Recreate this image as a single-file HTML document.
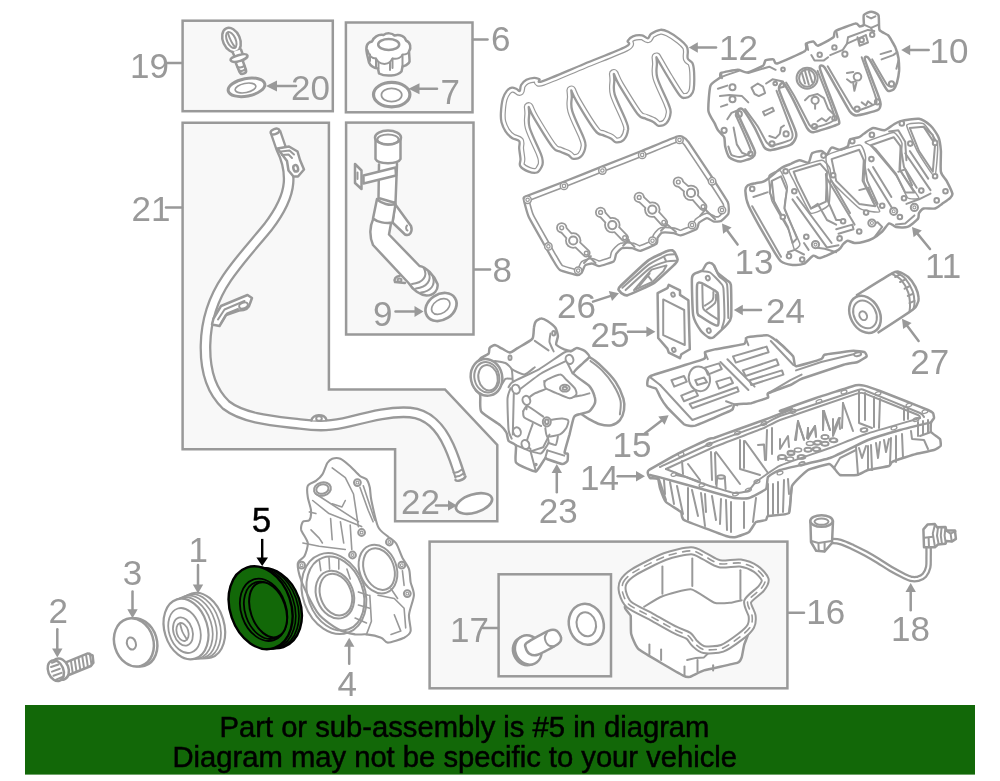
<!DOCTYPE html>
<html lang="en">
<head>
<meta charset="utf-8">
<title>Engine parts diagram</title>
<style>
html,body{margin:0;padding:0;background:#fff;}
body{width:1000px;height:781px;overflow:hidden;position:relative;font-family:"Liberation Sans",Arial,Helvetica,sans-serif;}
svg{position:absolute;left:0;top:0;display:block;will-change:transform;}
.l{fill:none;stroke:#999;stroke-width:2.5;stroke-linejoin:round;stroke-linecap:round;}
.t{fill:none;stroke:#999;stroke-width:2;stroke-linejoin:round;stroke-linecap:round;}
.w{fill:#fff;stroke:#999;stroke-width:2.5;stroke-linejoin:round;stroke-linecap:round;}
.wt{fill:#fff;stroke:#999;stroke-width:2;stroke-linejoin:round;stroke-linecap:round;}
.g{fill:#f8f8f8;stroke:#999;stroke-width:2.5;stroke-linejoin:round;stroke-linecap:round;}
.box{fill:#f8f8f8;stroke:#999;stroke-width:2.5;stroke-linejoin:miter;}
.a{fill:#999;stroke:none;}
.n{font-family:"Liberation Sans",Arial,Helvetica,sans-serif;font-size:35px;fill:#999;}
.k{fill:none;stroke:#000;stroke-width:2.5;stroke-linejoin:round;stroke-linecap:round;}
.b{font-family:"Liberation Sans",Arial,Helvetica,sans-serif;font-size:29.2px;fill:#000;stroke:#000;stroke-width:0.5px;}
</style>
</head>
<body>
<svg width="1000" height="781" viewBox="0 0 1000 781">
<rect x="0" y="0" width="1000" height="781" fill="#fff"/>
<g id="boxes">
<rect class="box" x="182.6" y="20.7" width="150.2" height="90.5"/>
<rect class="box" x="345.9" y="22.5" width="126.6" height="89.8"/>
<path class="box" d="M182.6 122.8H328.9V389.5H445L497.3 445V521.2H395.1V449.2H182.6Z"/>
<rect class="box" x="346.1" y="122.6" width="127.4" height="211.9"/>
<rect class="box" x="429.6" y="541.6" width="357.8" height="146.7"/>
<rect class="box" x="498.6" y="574.3" width="112.4" height="102"/>
</g>
<g id="p19">
<ellipse class="w" cx="231.5" cy="40" rx="8.5" ry="12.8" transform="rotate(-24 231.5 40)"/>
<ellipse class="t" cx="231.3" cy="40" rx="4.3" ry="8.6" transform="rotate(-24 231.3 40)"/>
<path class="t" d="M228 33.5C229.5 38 232 44 235.5 47.5"/>
<path class="w" d="M232.5 52L235 57.5L243 55L241 49.5"/>
<path class="w" d="M230.5 60C230 57 246 52 247.5 55.5C248.5 59 233 65 230.5 60Z"/>
<path class="w" d="M236 63.5L239.5 72C241 75.5 247 73.5 246 70L243 61.5"/>
<path class="t" d="M237.5 67C240 68 243 67 244.5 65.5M239 70.5C241 71.5 244 70.5 245.5 69"/>
<ellipse class="w" cx="246.5" cy="87.3" rx="18.6" ry="8.8" transform="rotate(-11 246.5 87.3)" style="stroke-width:3"/>
<ellipse class="t" style="stroke-width:1.6" cx="245.5" cy="88" rx="10.5" ry="4.6" transform="rotate(-11 245.5 88)"/>
<path class="l" d="M273 86H296"/>
<path class="a" d="M266 86L277 80.5V91.5Z"/>
<path class="l" d="M167 63H182"/>
</g>
<g id="p6">
<path class="w" d="M367 54C365.500 47 366.500 42.500 372 41.500C373.500 37.500 378 34 383.500 35C387 32.500 392 33 394.500 35.500C400 34 405 36.500 406 40.500C410.500 42.500 411.500 47.500 409 51.500L409.500 59.500C410.500 63.500 406 65.500 402.500 66.500L401.500 71.500C397.500 76 385.500 77 379 73.500L378 68.500C374 68 370.500 66 369 62.500Z"/>
<ellipse class="l" cx="388.7" cy="44.5" rx="10.5" ry="5.6"/>
<path class="t" d="M367.500 50C369 56 371.500 58.500 376 58.500L378.500 62C382 64.500 387 64.500 390 62L392.500 58.500C397 59.500 401.500 58 402.500 54.500C406 54.500 408.500 53 409 51.500"/>
<path class="t" d="M370 54.500V61M376 58.500V67M378.500 62V68.500M390 62.500V70M392.500 58.500V68M402.500 55V66"/>
<ellipse class="w" cx="391.7" cy="94.6" rx="18.2" ry="12.2" style="stroke-width:3.2"/>
<ellipse class="t" cx="391.6" cy="95" rx="10.2" ry="6.6" style="stroke-width:1.7"/>
<path class="l" d="M415 88.700H437"/>
<path class="a" d="M408.500 88.700L419.500 83.200V94.200Z"/>
<path class="l" d="M473 39.500H487.500"/>
</g>
<g id="p21">
<path id="tube21" d="M275.500 132L281 148C287 160 289.500 170 288.500 183C287.500 196 281 210 268 227C255 243 240 259 227 278C214 297 206 318 205.500 345C205 368 210 390 226 405C244 419 275 421 300 424C320 426.500 332 426 350 421.500C372 416 392 411 410 412.500C428 414 441 428 449 446C454 457 457.500 468 460.500 477" fill="none" stroke="#999" stroke-width="11.8" stroke-linecap="butt" stroke-linejoin="round"/>
<path d="M275.500 132L281 148C287 160 289.500 170 288.500 183C287.500 196 281 210 268 227C255 243 240 259 227 278C214 297 206 318 205.500 345C205 368 210 390 226 405C244 419 275 421 300 424C320 426.500 332 426 350 421.500C372 416 392 411 410 412.500C428 414 441 428 449 446C454 457 457.500 468 460.500 478.500" fill="none" stroke="#fff" stroke-width="7.2" stroke-linecap="butt" stroke-linejoin="round"/>
<ellipse class="w" cx="275" cy="131.500" rx="4.600" ry="2.600" transform="rotate(-20 275 131.5)"/>
<path class="w" d="M277.500 148.500L289 146.500L297.500 151.500L300 160L304 169.500L298 176.500H293.500L288.500 170.500L287 161Z"/>
<path class="t" d="M281 151.500L289.500 150.500L294 154.500M282 155L288.500 154.500L292 158"/>
<ellipse class="l" cx="295.700" cy="168.300" rx="2.300" ry="3.300" transform="rotate(-15 295.7 168.3)"/>
<path class="w" d="M213.500 318.500L221 306L247.500 295L252 298L250 303.500C249 309 245 310.500 239 310.500L226 315L219.500 326L212 324.500Z"/>
<path class="t" d="M218 319.500L224.500 309.500L244.500 301M221.500 322.500L227 313.500L238 309"/>
<ellipse class="t" cx="243.500" cy="305.500" rx="4.500" ry="2.800" transform="rotate(-20 243.5 305.5)"/>
<path class="w" d="M311.500 420.500C312 414 325 413 326.500 420"/>
<ellipse class="t" cx="319" cy="418.500" rx="2.800" ry="2.200"/>
<path class="t" d="M453.500 472.500C456 473 459.500 471.500 462 469.500M455 476.500C458 477 461 475.500 463.500 473.500"/>
<path class="l" d="M455.500 480C457 482 464 480 465.500 476.500"/>
<ellipse class="w" cx="474" cy="503.5" rx="18.7" ry="9.1" transform="rotate(-17 474 503.5)" style="stroke-width:2.7"/>
<path class="l" d="M436 505.500H450"/>
<path class="a" d="M457 505.500L448 500.200V510.800Z"/>
<path class="l" d="M166 207.500H182"/>
</g>
<g id="p8">
<path class="w" d="M379 164.500L378.500 198L395.500 203L397 164"/>
<path class="w" d="M363.500 175.500L395.500 167.500L396 175.500L363.500 183.500Z"/>
<path class="w" d="M355 164L361.500 170.500V189L355 183Z"/>
<path class="t" d="M357.500 172.500V179"/>
<path class="w" d="M375.500 138V159C378 164.500 398 164.500 400.500 159V138"/>
<ellipse class="w" cx="388" cy="137.500" rx="13" ry="7"/>
<ellipse class="t" cx="388" cy="139.500" rx="10.600" ry="5"/>
<path class="w" d="M395 204L411 226C413 232 409.500 236.500 405 234.500L392.500 222.500Z"/>
<path class="t" d="M407 225.500C405.500 227 406 230 407.500 230.500"/>
<path class="w" d="M373 219.500C370 226 369 236 373 245L409 283.500C413 290 420 295 426.500 295.500C434 295.500 438.500 290 437.500 284C434 275 426 267 419.500 266L389 234.500L391 223.500"/>
<path class="w" d="M399.500 276C396 276 393.500 279.500 395 282L405 283"/>
<ellipse class="t" cx="399.500" cy="280" rx="2" ry="1.500"/>
<path class="t" d="M424 268.500C428 276 423 283 412 284M428.500 272.500C432 280 427 287.500 416 288.500M433 277.500C435.500 284.500 431 291.500 421 292.500"/>
<path class="w" d="M377 199C381 203.500 390 206 395.500 204L392.500 222.500C386 224 377 222 373 218.500Z"/>
<ellipse class="w" cx="441" cy="307" rx="16.6" ry="12.8" transform="rotate(-33 441 307)" style="stroke-width:2.7"/>
<ellipse class="t" cx="440.7" cy="306.5" rx="10" ry="6.8" transform="rotate(-33 440.7 306.5)" style="stroke-width:1.6"/>
<path class="l" d="M395.500 311.500H416"/>
<path class="a" d="M423.500 311.500L414.500 306.100V316.900Z"/>
<path class="l" d="M474.500 269.500H490"/>
</g>
<g id="gasket12">
<clipPath id="g12c"><path d="M656.4 57.3C656.5 58.3 656.8 60 656.9 63.4C657.1 66.8 655.4 71 657.3 77.8C659.2 84.6 666.3 98.1 668.5 104C670.7 109.8 671 109.7 670.6 112.9C670.3 116.1 668.5 121 666.4 123.2C664.4 125.3 660.7 126 658.5 125.8C656.4 125.5 655.5 123.1 653.3 121.9C651.2 120.7 648.2 119.9 645.5 118.6C642.9 117.2 642 119.5 637.6 114C633.3 108.4 623.3 91.9 619.3 85.3C615.4 78.6 614.8 75.8 613.8 73.9C613.9 74.9 614.2 76.5 614.3 80C614.5 83.4 612.8 87.6 614.7 94.4C616.7 101.1 623.7 114.7 625.9 120.6C628.2 126.4 628.4 126.2 628.1 129.4C627.7 132.6 625.9 137.6 623.9 139.7C621.9 141.9 618.2 142.5 616 142.3C613.8 142.1 612.9 139.6 610.8 138.4C608.6 137.2 605.6 136.4 603 135.1C600.4 133.8 599.4 136.1 595.1 130.5C590.7 125 580.7 108.5 576.8 101.8C572.8 95.1 572.2 92.3 571.3 90.4C571.4 91.4 571.6 93.1 571.8 96.5C571.9 99.9 570.2 104.2 572.2 110.9C574.1 117.7 581.1 131.3 583.4 137.1C585.6 143 585.8 142.8 585.5 146C585.2 149.2 583.3 154.2 581.3 156.3C579.3 158.5 575.6 159.1 573.4 158.9C571.2 158.7 570.4 156.2 568.2 155C566 153.8 563 153 560.4 151.7C557.8 150.4 556.9 152.6 552.5 147.1C548.1 141.6 538.2 125.1 534.2 118.4C530.2 111.7 529.6 108.9 528.7 107C528.8 108 529.1 109.7 529.2 113.1C529.4 116.5 527.7 120.7 529.6 127.5C531.5 134.3 538.6 148 540.8 153.7C543 159.4 542.5 159.4 542.7 161.5C542.9 163.6 542.8 164.7 541.8 166.5C540.8 168.3 539.2 171.7 537 172.5C534.8 173.3 531.4 172.7 528.6 171.6C525.8 170.5 521.6 168.1 520.2 166C518.9 163.9 520.7 161.8 520.5 158.9C520.3 156 519.4 151.4 519.2 148.4C519 145.4 520.4 142.9 519.2 141.2C518 139.5 514.3 139.6 512 138C509.7 136.4 507.2 134 505.5 131.4C503.8 128.8 502.3 125.3 501.5 122.3C500.7 119.2 500.7 117 500.9 113.1C501.1 109.2 501.8 102.5 502.8 98.8C503.8 95.1 505.3 92.8 506.8 90.9C508.3 89 510.4 87.9 512 87.6C513.6 87.3 515.3 88.5 516.6 89C517.9 89.5 519 91.6 519.8 90.9C520.5 90.2 520 86.8 521.1 85C522.2 83.2 524.2 81 526.4 79.8C528.6 78.6 532 77.9 534.2 77.8C536.4 77.7 538 78.7 539.4 79.2C540.8 79.8 535.3 83.6 542.7 81.1C550.1 78.6 570.2 69.7 584 64C597.8 58.3 618.4 50.6 625.7 46.8C633 42.9 626.5 42.6 627.7 40.9C628.9 39.1 630.5 37.2 632.9 36.3C635.3 35.4 639.5 35.1 642 35.4C644.5 35.7 646.4 38.6 647.9 38.3C649.4 38 649.1 35.1 651.2 33.7C653.3 32.3 657.6 30.1 660.4 29.8C663.2 29.5 664.9 30.2 668.2 31.8C671.5 33.4 677 37.2 680 39.6C683 42 685.2 44.1 686.5 46.1C687.8 48.1 687.6 49.3 687.8 51.4C688 53.5 687 56.6 687.8 58.6C688.6 60.6 691.3 60.8 692.4 63.1C693.5 65.4 693.9 67.9 694.1 72.3C694.3 76.7 694.3 85.4 693.7 89.3C693.1 93.2 691.8 94.4 690.4 95.8C689 97.2 686.9 97.8 685.2 97.8C683.5 97.8 682.8 99.2 680 95.8C677.2 92.4 671.7 83.2 668.2 77.5C664.7 71.8 661 65.2 659 61.8C657 58.4 656.8 58 656.4 57.3Z"/></clipPath><g clip-path="url(#g12c)"><path d="M656.4 57.3C656.5 58.3 656.8 60 656.9 63.4C657.1 66.8 655.4 71 657.3 77.8C659.2 84.6 666.3 98.1 668.5 104C670.7 109.8 671 109.7 670.6 112.9C670.3 116.1 668.5 121 666.4 123.2C664.4 125.3 660.7 126 658.5 125.8C656.4 125.5 655.5 123.1 653.3 121.9C651.2 120.7 648.2 119.9 645.5 118.6C642.9 117.2 642 119.5 637.6 114C633.3 108.4 623.3 91.9 619.3 85.3C615.4 78.6 614.8 75.8 613.8 73.9C613.9 74.9 614.2 76.5 614.3 80C614.5 83.4 612.8 87.6 614.7 94.4C616.7 101.1 623.7 114.7 625.9 120.6C628.2 126.4 628.4 126.2 628.1 129.4C627.7 132.6 625.9 137.6 623.9 139.7C621.9 141.9 618.2 142.5 616 142.3C613.8 142.1 612.9 139.6 610.8 138.4C608.6 137.2 605.6 136.4 603 135.1C600.4 133.8 599.4 136.1 595.1 130.5C590.7 125 580.7 108.5 576.8 101.8C572.8 95.1 572.2 92.3 571.3 90.4C571.4 91.4 571.6 93.1 571.8 96.5C571.9 99.9 570.2 104.2 572.2 110.9C574.1 117.7 581.1 131.3 583.4 137.1C585.6 143 585.8 142.8 585.5 146C585.2 149.2 583.3 154.2 581.3 156.3C579.3 158.5 575.6 159.1 573.4 158.9C571.2 158.7 570.4 156.2 568.2 155C566 153.8 563 153 560.4 151.7C557.8 150.4 556.9 152.6 552.5 147.1C548.1 141.6 538.2 125.1 534.2 118.4C530.2 111.7 529.6 108.9 528.7 107C528.8 108 529.1 109.7 529.2 113.1C529.4 116.5 527.7 120.7 529.6 127.5C531.5 134.3 538.6 148 540.8 153.7C543 159.4 542.5 159.4 542.7 161.5C542.9 163.6 542.8 164.7 541.8 166.5C540.8 168.3 539.2 171.7 537 172.5C534.8 173.3 531.4 172.7 528.6 171.6C525.8 170.5 521.6 168.1 520.2 166C518.9 163.9 520.7 161.8 520.5 158.9C520.3 156 519.4 151.4 519.2 148.4C519 145.4 520.4 142.9 519.2 141.2C518 139.5 514.3 139.6 512 138C509.7 136.4 507.2 134 505.5 131.4C503.8 128.8 502.3 125.3 501.5 122.3C500.7 119.2 500.7 117 500.9 113.1C501.1 109.2 501.8 102.5 502.8 98.8C503.8 95.1 505.3 92.8 506.8 90.9C508.3 89 510.4 87.9 512 87.6C513.6 87.3 515.3 88.5 516.6 89C517.9 89.5 519 91.6 519.8 90.9C520.5 90.2 520 86.8 521.1 85C522.2 83.2 524.2 81 526.4 79.8C528.6 78.6 532 77.9 534.2 77.8C536.4 77.7 538 78.7 539.4 79.2C540.8 79.8 535.3 83.6 542.7 81.1C550.1 78.6 570.2 69.7 584 64C597.8 58.3 618.4 50.6 625.7 46.8C633 42.9 626.5 42.6 627.7 40.9C628.9 39.1 630.5 37.2 632.9 36.3C635.3 35.4 639.5 35.1 642 35.4C644.5 35.7 646.4 38.6 647.9 38.3C649.4 38 649.1 35.1 651.2 33.7C653.3 32.3 657.6 30.1 660.4 29.8C663.2 29.5 664.9 30.2 668.2 31.8C671.5 33.4 677 37.2 680 39.6C683 42 685.2 44.1 686.5 46.1C687.8 48.1 687.6 49.3 687.8 51.4C688 53.5 687 56.6 687.8 58.6C688.6 60.6 691.3 60.8 692.4 63.1C693.5 65.4 693.9 67.9 694.1 72.3C694.3 76.7 694.3 85.4 693.7 89.3C693.1 93.2 691.8 94.4 690.4 95.8C689 97.2 686.9 97.8 685.2 97.8C683.5 97.8 682.8 99.2 680 95.8C677.2 92.4 671.7 83.2 668.2 77.5C664.7 71.8 661 65.2 659 61.8C657 58.4 656.8 58 656.4 57.3Z" fill="none" stroke="#999" stroke-width="9.8" stroke-linejoin="round"/><path d="M656.4 57.3C656.5 58.3 656.8 60 656.9 63.4C657.1 66.8 655.4 71 657.3 77.8C659.2 84.6 666.3 98.1 668.5 104C670.7 109.8 671 109.7 670.6 112.9C670.3 116.1 668.5 121 666.4 123.2C664.4 125.3 660.7 126 658.5 125.8C656.4 125.5 655.5 123.1 653.3 121.9C651.2 120.7 648.2 119.9 645.5 118.6C642.9 117.2 642 119.5 637.6 114C633.3 108.4 623.3 91.9 619.3 85.3C615.4 78.6 614.8 75.8 613.8 73.9C613.9 74.9 614.2 76.5 614.3 80C614.5 83.4 612.8 87.6 614.7 94.4C616.7 101.1 623.7 114.7 625.9 120.6C628.2 126.4 628.4 126.2 628.1 129.4C627.7 132.6 625.9 137.6 623.9 139.7C621.9 141.9 618.2 142.5 616 142.3C613.8 142.1 612.9 139.6 610.8 138.4C608.6 137.2 605.6 136.4 603 135.1C600.4 133.8 599.4 136.1 595.1 130.5C590.7 125 580.7 108.5 576.8 101.8C572.8 95.1 572.2 92.3 571.3 90.4C571.4 91.4 571.6 93.1 571.8 96.5C571.9 99.9 570.2 104.2 572.2 110.9C574.1 117.7 581.1 131.3 583.4 137.1C585.6 143 585.8 142.8 585.5 146C585.2 149.2 583.3 154.2 581.3 156.3C579.3 158.5 575.6 159.1 573.4 158.9C571.2 158.7 570.4 156.2 568.2 155C566 153.8 563 153 560.4 151.7C557.8 150.4 556.9 152.6 552.5 147.1C548.1 141.6 538.2 125.1 534.2 118.4C530.2 111.7 529.6 108.9 528.7 107C528.8 108 529.1 109.7 529.2 113.1C529.4 116.5 527.7 120.7 529.6 127.5C531.5 134.3 538.6 148 540.8 153.7C543 159.4 542.5 159.4 542.7 161.5C542.9 163.6 542.8 164.7 541.8 166.5C540.8 168.3 539.2 171.7 537 172.5C534.8 173.3 531.4 172.7 528.6 171.6C525.8 170.5 521.6 168.1 520.2 166C518.9 163.9 520.7 161.8 520.5 158.9C520.3 156 519.4 151.4 519.2 148.4C519 145.4 520.4 142.9 519.2 141.2C518 139.5 514.3 139.6 512 138C509.7 136.4 507.2 134 505.5 131.4C503.8 128.8 502.3 125.3 501.5 122.3C500.7 119.2 500.7 117 500.9 113.1C501.1 109.2 501.8 102.5 502.8 98.8C503.8 95.1 505.3 92.8 506.8 90.9C508.3 89 510.4 87.9 512 87.6C513.6 87.3 515.3 88.5 516.6 89C517.9 89.5 519 91.6 519.8 90.9C520.5 90.2 520 86.8 521.1 85C522.2 83.2 524.2 81 526.4 79.8C528.6 78.6 532 77.9 534.2 77.8C536.4 77.7 538 78.7 539.4 79.2C540.8 79.8 535.3 83.6 542.7 81.1C550.1 78.6 570.2 69.7 584 64C597.8 58.3 618.4 50.6 625.7 46.8C633 42.9 626.5 42.6 627.7 40.9C628.9 39.1 630.5 37.2 632.9 36.3C635.3 35.4 639.5 35.1 642 35.4C644.5 35.7 646.4 38.6 647.9 38.3C649.4 38 649.1 35.1 651.2 33.7C653.3 32.3 657.6 30.1 660.4 29.8C663.2 29.5 664.9 30.2 668.2 31.8C671.5 33.4 677 37.2 680 39.6C683 42 685.2 44.1 686.5 46.1C687.8 48.1 687.6 49.3 687.8 51.4C688 53.5 687 56.6 687.8 58.6C688.6 60.6 691.3 60.8 692.4 63.1C693.5 65.4 693.9 67.9 694.1 72.3C694.3 76.7 694.3 85.4 693.7 89.3C693.1 93.2 691.8 94.4 690.4 95.8C689 97.2 686.9 97.8 685.2 97.8C683.5 97.8 682.8 99.2 680 95.8C677.2 92.4 671.7 83.2 668.2 77.5C664.7 71.8 661 65.2 659 61.8C657 58.4 656.8 58 656.4 57.3Z" fill="none" stroke="#fff" stroke-width="7.4" stroke-linejoin="round"/></g><path d="M656.4 57.3C656.5 58.3 656.8 60 656.9 63.4C657.1 66.8 655.4 71 657.3 77.8C659.2 84.6 666.3 98.1 668.5 104C670.7 109.8 671 109.7 670.6 112.9C670.3 116.1 668.5 121 666.4 123.2C664.4 125.3 660.7 126 658.5 125.8C656.4 125.5 655.5 123.1 653.3 121.9C651.2 120.7 648.2 119.9 645.5 118.6C642.9 117.2 642 119.5 637.6 114C633.3 108.4 623.3 91.9 619.3 85.3C615.4 78.6 614.8 75.8 613.8 73.9C613.9 74.9 614.2 76.5 614.3 80C614.5 83.4 612.8 87.6 614.7 94.4C616.7 101.1 623.7 114.7 625.9 120.6C628.2 126.4 628.4 126.2 628.1 129.4C627.7 132.6 625.9 137.6 623.9 139.7C621.9 141.9 618.2 142.5 616 142.3C613.8 142.1 612.9 139.6 610.8 138.4C608.6 137.2 605.6 136.4 603 135.1C600.4 133.8 599.4 136.1 595.1 130.5C590.7 125 580.7 108.5 576.8 101.8C572.8 95.1 572.2 92.3 571.3 90.4C571.4 91.4 571.6 93.1 571.8 96.5C571.9 99.9 570.2 104.2 572.2 110.9C574.1 117.7 581.1 131.3 583.4 137.1C585.6 143 585.8 142.8 585.5 146C585.2 149.2 583.3 154.2 581.3 156.3C579.3 158.5 575.6 159.1 573.4 158.9C571.2 158.7 570.4 156.2 568.2 155C566 153.8 563 153 560.4 151.7C557.8 150.4 556.9 152.6 552.5 147.1C548.1 141.6 538.2 125.1 534.2 118.4C530.2 111.7 529.6 108.9 528.7 107C528.8 108 529.1 109.7 529.2 113.1C529.4 116.5 527.7 120.7 529.6 127.5C531.5 134.3 538.6 148 540.8 153.7C543 159.4 542.5 159.4 542.7 161.5C542.9 163.6 542.8 164.7 541.8 166.5C540.8 168.3 539.2 171.7 537 172.5C534.8 173.3 531.4 172.7 528.6 171.6C525.8 170.5 521.6 168.1 520.2 166C518.9 163.9 520.7 161.8 520.5 158.9C520.3 156 519.4 151.4 519.2 148.4C519 145.4 520.4 142.9 519.2 141.2C518 139.5 514.3 139.6 512 138C509.7 136.4 507.2 134 505.5 131.4C503.8 128.8 502.3 125.3 501.5 122.3C500.7 119.2 500.7 117 500.9 113.1C501.1 109.2 501.8 102.5 502.8 98.8C503.8 95.1 505.3 92.8 506.8 90.9C508.3 89 510.4 87.9 512 87.6C513.6 87.3 515.3 88.5 516.6 89C517.9 89.5 519 91.6 519.8 90.9C520.5 90.2 520 86.8 521.1 85C522.2 83.2 524.2 81 526.4 79.8C528.6 78.6 532 77.9 534.2 77.8C536.4 77.7 538 78.7 539.4 79.2C540.8 79.8 535.3 83.6 542.7 81.1C550.1 78.6 570.2 69.7 584 64C597.8 58.3 618.4 50.6 625.7 46.8C633 42.9 626.5 42.6 627.7 40.9C628.9 39.1 630.5 37.2 632.9 36.3C635.3 35.4 639.5 35.1 642 35.4C644.5 35.7 646.4 38.6 647.9 38.3C649.4 38 649.1 35.1 651.2 33.7C653.3 32.3 657.6 30.1 660.4 29.8C663.2 29.5 664.9 30.2 668.2 31.8C671.5 33.4 677 37.2 680 39.6C683 42 685.2 44.1 686.5 46.1C687.8 48.1 687.6 49.3 687.8 51.4C688 53.5 687 56.6 687.8 58.6C688.6 60.6 691.3 60.8 692.4 63.1C693.5 65.4 693.9 67.9 694.1 72.3C694.3 76.7 694.3 85.4 693.7 89.3C693.1 93.2 691.8 94.4 690.4 95.8C689 97.2 686.9 97.8 685.2 97.8C683.5 97.8 682.8 99.2 680 95.8C677.2 92.4 671.7 83.2 668.2 77.5C664.7 71.8 661 65.2 659 61.8C657 58.4 656.8 58 656.4 57.3Z" fill="none" stroke="#999" stroke-width="2.3" stroke-linejoin="round"/><path class="l" d="M716 47.5L695.8 47.5"/><path class="a" d="M688.8 47.5L697.8 42.2L697.8 52.8Z"/>
</g>
<g id="gasket13">
<clipPath id="g13c"><path d="M523.7 199.1C523.5 197.3 522.7 197.7 526 196.3C529.4 194.9 557.4 184.3 563.8 181.8C570.1 179.3 595.9 169 602.4 166.4C608.9 163.8 635.3 153.5 641.5 151C647.7 148.5 673.7 137.7 677.1 136.5C680.6 135.3 681.9 136.5 682.9 137C683.9 137.4 686.1 138.6 688.6 142.2C691.2 145.9 710.7 175.2 714 180.2C717.2 185.2 726.5 199.3 727.8 202.1C729 204.8 729 212 728.4 213.6C727.9 215.1 722.1 220.5 720.9 221.1C719.6 221.8 715.1 221.8 714 221.6C712.8 221.4 708.3 218.1 707 218.2C705.8 218.2 699.9 221.8 699 222.8C698.1 223.7 698.2 227.9 696.7 229C695.2 230 682.5 235.1 680.6 235.4C678.7 235.7 675.2 233.3 673.7 233.1C672.2 232.9 663.5 232.3 662.2 232.6C660.9 233 658.1 236.8 657.6 237.7C657.1 238.6 657.9 242.8 656.5 243.9C655 245 642.4 250.5 640.4 250.8C638.3 251.2 633.8 248.3 632.3 248.1C630.8 247.8 623.3 247.6 622 248.1C620.6 248.5 616.9 252.7 616.2 253.8C615.5 254.9 615.3 260.1 613.9 261.2C612.5 262.2 600.8 266 599 266.2C597.1 266.4 593.2 263.5 592 263.5C590.9 263.4 586 264.5 585.1 265.3C584.3 266.1 582.4 271.9 581.7 272.7C581 273.5 578.9 275.2 577.1 275C575.3 274.7 561.9 271.1 559.9 269.9C557.8 268.7 554.2 262 553 260C551.7 258 546.9 249.3 544.9 245.8C542.9 242.2 530.6 220.9 528.8 217C527 213.1 524 200.8 523.7 199.1Z"/></clipPath><g clip-path="url(#g13c)"><path d="M523.7 199.1C523.5 197.3 522.7 197.7 526 196.3C529.4 194.9 557.4 184.3 563.8 181.8C570.1 179.3 595.9 169 602.4 166.4C608.9 163.8 635.3 153.5 641.5 151C647.7 148.5 673.7 137.7 677.1 136.5C680.6 135.3 681.9 136.5 682.9 137C683.9 137.4 686.1 138.6 688.6 142.2C691.2 145.9 710.7 175.2 714 180.2C717.2 185.2 726.5 199.3 727.8 202.1C729 204.8 729 212 728.4 213.6C727.9 215.1 722.1 220.5 720.9 221.1C719.6 221.8 715.1 221.8 714 221.6C712.8 221.4 708.3 218.1 707 218.2C705.8 218.2 699.9 221.8 699 222.8C698.1 223.7 698.2 227.9 696.7 229C695.2 230 682.5 235.1 680.6 235.4C678.7 235.7 675.2 233.3 673.7 233.1C672.2 232.9 663.5 232.3 662.2 232.6C660.9 233 658.1 236.8 657.6 237.7C657.1 238.6 657.9 242.8 656.5 243.9C655 245 642.4 250.5 640.4 250.8C638.3 251.2 633.8 248.3 632.3 248.1C630.8 247.8 623.3 247.6 622 248.1C620.6 248.5 616.9 252.7 616.2 253.8C615.5 254.9 615.3 260.1 613.9 261.2C612.5 262.2 600.8 266 599 266.2C597.1 266.4 593.2 263.5 592 263.5C590.9 263.4 586 264.5 585.1 265.3C584.3 266.1 582.4 271.9 581.7 272.7C581 273.5 578.9 275.2 577.1 275C575.3 274.7 561.9 271.1 559.9 269.9C557.8 268.7 554.2 262 553 260C551.7 258 546.9 249.3 544.9 245.8C542.9 242.2 530.6 220.9 528.8 217C527 213.1 524 200.8 523.7 199.1Z" fill="#fff" stroke="#999" stroke-width="11.6" stroke-linejoin="round"/><path d="M523.7 199.1C523.5 197.3 522.7 197.7 526 196.3C529.4 194.9 557.4 184.3 563.8 181.8C570.1 179.3 595.9 169 602.4 166.4C608.9 163.8 635.3 153.5 641.5 151C647.7 148.5 673.7 137.7 677.1 136.5C680.6 135.3 681.9 136.5 682.9 137C683.9 137.4 686.1 138.6 688.6 142.2C691.2 145.9 710.7 175.2 714 180.2C717.2 185.2 726.5 199.3 727.8 202.1C729 204.8 729 212 728.4 213.6C727.9 215.1 722.1 220.5 720.9 221.1C719.6 221.8 715.1 221.8 714 221.6C712.8 221.4 708.3 218.1 707 218.2C705.8 218.2 699.9 221.8 699 222.8C698.1 223.7 698.2 227.9 696.7 229C695.2 230 682.5 235.1 680.6 235.4C678.7 235.7 675.2 233.3 673.7 233.1C672.2 232.9 663.5 232.3 662.2 232.6C660.9 233 658.1 236.8 657.6 237.7C657.1 238.6 657.9 242.8 656.5 243.9C655 245 642.4 250.5 640.4 250.8C638.3 251.2 633.8 248.3 632.3 248.1C630.8 247.8 623.3 247.6 622 248.1C620.6 248.5 616.9 252.7 616.2 253.8C615.5 254.9 615.3 260.1 613.9 261.2C612.5 262.2 600.8 266 599 266.2C597.1 266.4 593.2 263.5 592 263.5C590.9 263.4 586 264.5 585.1 265.3C584.3 266.1 582.4 271.9 581.7 272.7C581 273.5 578.9 275.2 577.1 275C575.3 274.7 561.9 271.1 559.9 269.9C557.8 268.7 554.2 262 553 260C551.7 258 546.9 249.3 544.9 245.8C542.9 242.2 530.6 220.9 528.8 217C527 213.1 524 200.8 523.7 199.1Z" fill="none" stroke="#fff" stroke-width="8.4" stroke-linejoin="round"/></g><path d="M523.7 199.1C523.5 197.3 522.7 197.7 526 196.3C529.4 194.9 557.4 184.3 563.8 181.8C570.1 179.3 595.9 169 602.4 166.4C608.9 163.8 635.3 153.5 641.5 151C647.7 148.5 673.7 137.7 677.1 136.5C680.6 135.3 681.9 136.5 682.9 137C683.9 137.4 686.1 138.6 688.6 142.2C691.2 145.9 710.7 175.2 714 180.2C717.2 185.2 726.5 199.3 727.8 202.1C729 204.8 729 212 728.4 213.6C727.9 215.1 722.1 220.5 720.9 221.1C719.6 221.8 715.1 221.8 714 221.6C712.8 221.4 708.3 218.1 707 218.2C705.8 218.2 699.9 221.8 699 222.8C698.1 223.7 698.2 227.9 696.7 229C695.2 230 682.5 235.1 680.6 235.4C678.7 235.7 675.2 233.3 673.7 233.1C672.2 232.9 663.5 232.3 662.2 232.6C660.9 233 658.1 236.8 657.6 237.7C657.1 238.6 657.9 242.8 656.5 243.9C655 245 642.4 250.5 640.4 250.8C638.3 251.2 633.8 248.3 632.3 248.1C630.8 247.8 623.3 247.6 622 248.1C620.6 248.5 616.9 252.7 616.2 253.8C615.5 254.9 615.3 260.1 613.9 261.2C612.5 262.2 600.8 266 599 266.2C597.1 266.4 593.2 263.5 592 263.5C590.9 263.4 586 264.5 585.1 265.3C584.3 266.1 582.4 271.9 581.7 272.7C581 273.5 578.9 275.2 577.1 275C575.3 274.7 561.9 271.1 559.9 269.9C557.8 268.7 554.2 262 553 260C551.7 258 546.9 249.3 544.9 245.8C542.9 242.2 530.6 220.9 528.8 217C527 213.1 524 200.8 523.7 199.1Z" fill="none" stroke="#999" stroke-width="2.3" stroke-linejoin="round"/><path class="t" d="M581.7 249.2L595.5 263"/><path class="t" d="M590.9 256.1L584 263"/><path class="t" d="M620.8 233.1L634.6 246.9"/><path class="t" d="M628.9 240L623.1 245.8"/><path class="t" d="M659.9 218.2L676 231.9"/><path class="t" d="M666.8 225.1L661 230.8"/><path class="t" d="M699 203.2L715.1 219.3"/><path class="t" d="M705.9 208.9L700.1 215.9"/><path d="M561.7 227.8L573.2 240.5L586.3 253.1" fill="none" stroke="#999" stroke-width="8.6" stroke-linecap="round" stroke-linejoin="round"/><circle cx="573.2" cy="240.5" r="8.2" fill="#999"/><circle cx="561.7" cy="227.8" r="5.6" fill="#999"/><path d="M600.6 212.4L612.3 225.1L624.7 237.7" fill="none" stroke="#999" stroke-width="8.6" stroke-linecap="round" stroke-linejoin="round"/><circle cx="612.3" cy="225.1" r="8.2" fill="#999"/><circle cx="600.6" cy="212.4" r="5.6" fill="#999"/><path d="M639.2 197.4L652.3 209.6L663.8 222.3" fill="none" stroke="#999" stroke-width="8.6" stroke-linecap="round" stroke-linejoin="round"/><circle cx="652.3" cy="209.6" r="8.2" fill="#999"/><circle cx="639.2" cy="197.4" r="5.6" fill="#999"/><path d="M678.3 182L691 192.9L703.1 206.7" fill="none" stroke="#999" stroke-width="8.6" stroke-linecap="round" stroke-linejoin="round"/><circle cx="691" cy="192.9" r="8.2" fill="#999"/><circle cx="678.3" cy="182" r="5.6" fill="#999"/><path d="M561.7 227.8L573.2 240.5L586.3 253.1" fill="none" stroke="#fff" stroke-width="5" stroke-linecap="round" stroke-linejoin="round"/><circle cx="573.2" cy="240.5" r="6.4" fill="#fff"/><circle cx="561.7" cy="227.8" r="3.8" fill="#fff"/><circle class="t" cx="573.2" cy="240.5" r="4.1"/><circle cx="561.7" cy="227.8" r="1.9" fill="none" stroke="#999" stroke-width="1.4"/><circle cx="586.3" cy="253.1" r="1.9" fill="#fff" stroke="#999" stroke-width="1.4"/><path d="M600.6 212.4L612.3 225.1L624.7 237.7" fill="none" stroke="#fff" stroke-width="5" stroke-linecap="round" stroke-linejoin="round"/><circle cx="612.3" cy="225.1" r="6.4" fill="#fff"/><circle cx="600.6" cy="212.4" r="3.8" fill="#fff"/><circle class="t" cx="612.3" cy="225.1" r="4.1"/><circle cx="600.6" cy="212.4" r="1.9" fill="none" stroke="#999" stroke-width="1.4"/><circle cx="624.7" cy="237.7" r="1.9" fill="#fff" stroke="#999" stroke-width="1.4"/><path d="M639.2 197.4L652.3 209.6L663.8 222.3" fill="none" stroke="#fff" stroke-width="5" stroke-linecap="round" stroke-linejoin="round"/><circle cx="652.3" cy="209.6" r="6.4" fill="#fff"/><circle cx="639.2" cy="197.4" r="3.8" fill="#fff"/><circle class="t" cx="652.3" cy="209.6" r="4.1"/><circle cx="639.2" cy="197.4" r="1.9" fill="none" stroke="#999" stroke-width="1.4"/><circle cx="663.8" cy="222.3" r="1.9" fill="#fff" stroke="#999" stroke-width="1.4"/><path d="M678.3 182L691 192.9L703.1 206.7" fill="none" stroke="#fff" stroke-width="5" stroke-linecap="round" stroke-linejoin="round"/><circle cx="691" cy="192.9" r="6.4" fill="#fff"/><circle cx="678.3" cy="182" r="3.8" fill="#fff"/><circle class="t" cx="691" cy="192.9" r="4.1"/><circle cx="678.3" cy="182" r="1.9" fill="none" stroke="#999" stroke-width="1.4"/><circle cx="703.1" cy="206.7" r="1.9" fill="#fff" stroke="#999" stroke-width="1.4"/><circle cx="527.6" cy="199.8" r="3.7" fill="#fff" stroke="#999" stroke-width="1.5"/><circle cx="527.6" cy="199.8" r="1.7" fill="none" stroke="#999" stroke-width="1.2"/><circle cx="564" cy="185.9" r="3.7" fill="#fff" stroke="#999" stroke-width="1.5"/><circle cx="564" cy="185.9" r="1.7" fill="none" stroke="#999" stroke-width="1.2"/><circle cx="602.4" cy="170.5" r="3.7" fill="#fff" stroke="#999" stroke-width="1.5"/><circle cx="602.4" cy="170.5" r="1.7" fill="none" stroke="#999" stroke-width="1.2"/><circle cx="642.2" cy="154.9" r="3.7" fill="#fff" stroke="#999" stroke-width="1.5"/><circle cx="642.2" cy="154.9" r="1.7" fill="none" stroke="#999" stroke-width="1.2"/><circle cx="679.5" cy="139.9" r="3.7" fill="#fff" stroke="#999" stroke-width="1.5"/><circle cx="679.5" cy="139.9" r="1.7" fill="none" stroke="#999" stroke-width="1.2"/><circle cx="712.1" cy="181.3" r="3.7" fill="#fff" stroke="#999" stroke-width="1.5"/><circle cx="712.1" cy="181.3" r="1.7" fill="none" stroke="#999" stroke-width="1.2"/><circle cx="722" cy="210.1" r="3.7" fill="#fff" stroke="#999" stroke-width="1.5"/><circle cx="722" cy="210.1" r="1.7" fill="none" stroke="#999" stroke-width="1.2"/><circle cx="692.1" cy="225.1" r="3.7" fill="#fff" stroke="#999" stroke-width="1.5"/><circle cx="692.1" cy="225.1" r="1.7" fill="none" stroke="#999" stroke-width="1.2"/><circle cx="652.5" cy="240.7" r="3.7" fill="#fff" stroke="#999" stroke-width="1.5"/><circle cx="652.5" cy="240.7" r="1.7" fill="none" stroke="#999" stroke-width="1.2"/><circle cx="578.2" cy="270.6" r="3.7" fill="#fff" stroke="#999" stroke-width="1.5"/><circle cx="578.2" cy="270.6" r="1.7" fill="none" stroke="#999" stroke-width="1.2"/><circle cx="548.4" cy="246.4" r="3.7" fill="#fff" stroke="#999" stroke-width="1.5"/><circle cx="548.4" cy="246.4" r="1.7" fill="none" stroke="#999" stroke-width="1.2"/><path class="l" d="M737.6 244.6L726.1 229"/><path class="a" d="M722 223.4L731.6 227.5L723.1 233.8Z"/>
</g>
<g id="part10">
<path class="w" d="M708.4 110.8C708 107 709.3 88.9 710.5 85.6C711.7 82.3 718.9 78.9 720 77.6C721 76.4 719.2 73.8 721 73C722.8 72.2 735.2 69.9 737.8 69.8C740.4 69.8 744.7 72.8 747.2 72.4C749.8 72 761.2 66.8 763 65.7C764.8 64.5 764.5 61 765.5 60.4C766.6 59.8 772.3 59 773.5 59.4C774.7 59.7 774.1 64.4 777.3 63.5C780.4 62.7 802.1 52.9 805 51C807.9 49 805.2 44.5 806 43.6C806.9 42.7 812.2 41.3 813.4 41.5C814.6 41.7 816 46.1 818 45.7C820 45.3 831.6 38.8 833.4 37.3C835.1 35.8 833.2 32.4 835.5 31C837.7 29.6 853 24.1 855.4 23.6C857.8 23.2 858.8 26.3 859.6 26.4C860.4 26.5 863.4 25.8 863.8 24.7C864.2 23.6 863.1 16.6 863.8 15.2C864.5 13.9 869.7 11.7 871.1 11.7C872.6 11.7 877.7 13.4 878.5 15.2C879.3 17.1 878.6 28 879.5 29.9C880.5 31.9 886.7 34 888 35.2C889.2 36.4 891.4 40.2 892.1 41.5C892.9 42.8 895.1 46.5 895.7 48.2C896.4 49.9 898.1 56 898.5 58.3C898.8 60.6 899.2 68.5 899.1 70.9C898.9 73.3 897.5 80.6 897 82.5C896.4 84.3 894.5 88.5 893.6 89.4C892.8 90.2 889.3 91.3 888.4 91.1C887.5 90.8 886.7 89.9 884.8 86.7C882.9 83.4 871 61.4 869 58.7C867.1 56 863.9 56 864.9 59.8C865.8 63.5 876.9 91.6 878.5 96.1C880.1 100.6 880.7 103.1 880.6 104.5C880.5 105.9 879.9 109.1 877.5 110.2C875 111.3 859.2 115.3 856.5 115.4C853.7 115.6 852.1 114.6 850.1 111.8C848.2 109.1 839.1 92.6 836.5 88.1C833.9 83.6 826 69 824.3 67.1C822.7 65.2 818.7 64 820.1 69.2C821.5 74.4 837 113.6 838.6 119.2C840.2 124.8 839 123.6 836.5 124.9C834 126.2 816.3 131.9 813.4 132.2C810.5 132.5 809.2 131.4 807.1 128C805 124.6 794.8 102.7 792.4 98.2C790 93.7 784.7 83.7 783.4 82.9C782 82.1 778 85.4 779.2 90.2C780.4 95 793.9 125.9 795.5 130.8C797.2 135.6 796.1 137.1 795.5 138.5C795 139.9 792.7 143.7 790.3 144.8C787.9 146 774 149.9 771.4 150.1C768.8 150.3 765.7 149.2 764 146.9C762.4 144.7 756.8 131.4 754.6 127.6C752.4 123.8 744.1 110.5 742.4 109.1C740.7 107.7 736.6 109.2 737.8 113.3C739 117.5 753.1 146.3 754.6 150.7C756.1 155.1 754 156.3 752.5 157.4C751 158.5 742.2 161.6 739.9 161.6C737.6 161.6 730.9 158.9 729.4 157.4C727.9 155.9 725.7 148.5 725.2 146.5C724.7 144.5 724.9 138.7 724.1 137.1C723.4 135.4 718.8 131.5 717.9 130.1C716.9 128.8 715.6 125.3 714.7 123.4C713.8 121.5 708.8 114.6 708.4 110.8Z"/><path class="t" d="M861.7 57.2C862.8 60.5 874.2 92.2 875.4 96.1C876.5 99.9 877.5 102.2 876 103.5C874.5 104.7 859.4 110.4 857.5 110.8C855.6 111.2 854.4 110.7 852.9 108.7C851.4 106.7 841.8 90.2 839.6 86.7C837.5 83.1 828.7 68 827.7 66.3"/><path class="t" d="M817.6 70.9C819 74.8 835.1 113.4 834.8 118.2C834.6 122.9 816.6 127 814.5 127.6C812.4 128.2 811.2 127.5 809.6 125.1C808 122.6 797.5 101.8 795.5 98.2C793.6 94.6 786.9 83.8 786.1 82.5"/><path class="t" d="M776.6 90.8C777.9 94.3 790.8 127.7 792 131.8C793.2 135.9 792.3 138.6 790.7 139.8C789.1 140.9 774.4 145.2 772.5 145.4C770.5 145.7 768 144.3 766.8 142.7C765.6 141.1 759.6 129.3 757.8 126.5C755.9 123.8 746.2 110.6 745.1 109.1"/><path class="t" d="M735.7 115C737 118 750.5 147.2 750.8 150.7C751.2 154.2 741.5 156.7 739.9 157C738.3 157.3 732.5 155.8 731.5 154.9C730.5 154 728.6 147.2 728.4 146.5"/><path class="t" d="M872.2 59.4C873.4 61.5 885.3 82.3 886.9 84.5C888.5 86.8 891.1 86.5 891.5 86.7"/><circle class="t" cx="724.1" cy="130.3" r="2.6"/><circle class="t" cx="732.5" cy="87.3" r="3"/><circle class="t" cx="732.5" cy="99.2" r="3"/><circle class="t" cx="738.9" cy="114" r="3"/><circle class="t" cx="750.4" cy="153.8" r="2.2"/><circle class="t" cx="772" cy="143.8" r="2.6"/><circle class="t" cx="786.1" cy="133.9" r="2.6"/><circle class="t" cx="814.5" cy="126.5" r="2.6"/><circle class="t" cx="834.4" cy="118.2" r="2.2"/><circle class="t" cx="857.1" cy="109.1" r="2.6"/><circle class="t" cx="877.5" cy="101.8" r="2.6"/><circle class="t" cx="891.5" cy="83.9" r="2.6"/><circle class="t" cx="819.7" cy="54.7" r="2.2"/><circle class="t" cx="834.4" cy="47.4" r="2.2"/><circle class="t" cx="844.9" cy="54.1" r="2.6"/><circle class="t" cx="861.7" cy="40" r="2.2"/><circle class="t" cx="872.2" cy="34.8" r="2.2"/><circle class="t" cx="783" cy="69.4" r="1.8"/><circle class="t" cx="775.2" cy="83.5" r="1.8"/><circle class="t" cx="815.1" cy="100.3" r="3.6"/><circle class="t" cx="857.5" cy="76.8" r="3.8"/><ellipse class="t" cx="807.1" cy="78.2" rx="10.5" ry="10.5"/><ellipse class="t" cx="807.1" cy="78.2" rx="8" ry="8.6"/><path class="t" d="M801.9 73L805 83.5M805 70.9L808.8 84.5M808.8 71.3L812.4 82.5"/><path class="t" d="M720 77.6L726.2 75.1L738.9 70.9"/><path class="t" d="M721 73L722 78.2"/><path class="t" d="M717.9 88.8L727.3 85.6"/><path class="t" d="M720 96.1L729.4 95L742 96.1L748.3 102.4"/><path class="t" d="M721 106.6L727.3 104.5"/><path class="t" d="M751.5 87.7L757.8 83.5L763 86.7L765.1 93L758.8 96.1L754.6 94L751.5 87.7"/><path class="t" d="M763 111.8L772.5 107.7L773.9 110.8L764.7 115.4L763 111.8"/><path class="t" d="M766.1 83.5L772.5 79.3L783 81.4L784 86.7L779.8 87.7"/><path class="t" d="M769.3 136L775.6 138.1L779.8 133.9L780.9 127.6L784 125.5"/><path class="t" d="M727.3 119.2L731.5 112.9L736.8 110.8"/><path class="t" d="M733.6 127.6L736.8 144.4L742 152.8L747.2 154.9"/><path class="t" d="M805 100.3L809.2 96.1L817.6 94L823.9 98.2L828.1 108.7L834.4 115"/><path class="t" d="M815.1 104.1L815.1 108.7"/><path class="t" d="M817.6 121.3L821.8 118.2L826 121.3L830.2 117.1"/><path class="t" d="M847 73L853.3 72"/><path class="t" d="M847 79.3L851.2 82.5L855.4 81.4"/><path class="t" d="M853.3 83.5L854.4 90.8L856.5 82.5"/><path class="t" d="M861.7 102.4L865.9 105.5L868 101.3L872.2 104.5"/><path class="t" d="M811.3 55.1L814.5 60.4L823.9 60.4L828.1 57.2"/><path class="t" d="M830.2 55.1L842.8 49.9L847 43.6L865.9 35.2"/><path class="t" d="M847 43.6L848 37.3L868 29.9L874.3 31"/><path class="t" d="M857.5 37.3L859.6 45.7L868 42.5L865.9 35.2"/><path class="t" d="M880.6 54.1L891.1 51"/><path class="t" d="M881.6 59.4L893.2 55.1L897.4 52"/><path class="t" d="M898.5 60.4L896.4 68.8"/><path class="t" d="M863.8 24.7L871.1 27.9L878.5 24.7"/><path class="t" d="M871.1 27.9L872.2 31"/><path class="t" d="M867 16.3L871.1 18.4L875.4 16.3"/><path class="t" d="M748.3 73L769.3 66.7L775.6 69.8"/><path class="t" d="M836.5 32L837.5 37.3"/><path class="t" d="M807.1 44.6L808.1 49.9"/><path class="l" d="M928.7 50L908.2 50"/><path class="a" d="M901.2 50L910.2 44.7L910.2 55.3Z"/>
</g>
<g id="part11">
<path class="w" d="M745.4 191.2C745.2 188.8 746.4 186.4 747.6 185.5C748.9 184.6 753.7 183.7 755.7 183.2C757.7 182.7 761.9 182.6 764.9 180.9C767.9 179.2 777.9 170.3 781 168.2C784.1 166.2 789.2 164.6 791.4 163.7C793.5 162.7 797.4 160.3 799.4 160.2C801.4 160.1 807.1 163.3 808.6 162.5C810.1 161.7 810.6 154.6 812 153.3C813.5 152 819.5 150.9 821.2 151C823 151.1 825.8 154.9 827 154.4C828.2 154 830.1 148.1 831.6 147.6C833.1 147 837.8 150 839.6 149.8C841.5 149.7 846.5 147.6 847.7 146.4C848.9 145.2 848.7 140.6 850 139.5C851.3 138.4 857.6 137.9 859.2 137.2C860.8 136.5 862.2 134.8 863.8 133.8C865.4 132.7 870.6 128.4 873 128C875.4 127.6 882.1 130.7 884.5 130.3C886.9 129.9 891.8 125.6 893.7 124.5C895.6 123.5 897.6 121.8 900.6 121.1C903.6 120.4 915.5 118.3 919 118.8C922.5 119.3 928.2 123.6 930.5 125.7C932.8 127.8 937.3 134.2 938.5 137.2C939.8 140.2 940.6 147 940.9 151C941.1 155 940.2 168.2 940.9 171.7C941.5 175.2 945.3 178.4 946.6 180.9C947.9 183.4 951.9 191.5 952.4 193.6C952.8 195.6 951.3 196.9 950 198.2C948.8 199.4 943.7 202.7 942 203.9C940.3 205.1 937.2 208 935.1 208.5C933 209 925.5 208 923.6 208.5C921.7 209 919.7 211.9 919 213.1C918.3 214.3 919.2 217.2 917.9 218.9C916.5 220.5 910 226 907.5 226.9C905 227.8 898.1 227.3 896 226.9C893.9 226.5 890.7 222.9 889.1 223.4C887.5 224 884.1 229.8 882.2 231.5C880.3 233.2 875.1 237.2 873 238.4C870.9 239.6 865.9 241.3 863.8 241.8C861.7 242.4 856.5 243.1 854.6 243C852.7 242.9 849 240.6 847.7 240.7C846.4 240.8 844.2 243.1 843.1 244.2C842 245.2 841.2 248.3 838.5 249.9C835.8 251.5 823.1 257.3 820.1 258C817.1 258.6 815.1 255 813.2 255.7C811.3 256.3 806.4 262.6 804 263.7C801.6 264.8 795.2 265.1 792.5 264.9C789.8 264.6 783.4 263.4 781 261.4C778.6 259.4 775.6 254 771.8 247.6C768 241.2 751.9 212.8 748.8 206.2C745.7 199.6 745.5 193.7 745.4 191.2Z"/><path class="t" d="M793.6 171.7L820.1 163.7L827 171.7L825.9 201.6L810.9 208.5L797.1 180.9Z"/><path class="t" d="M789.5 169.7C791.4 168.3 819.1 160.2 821.8 160.2C824.5 160.2 829.7 166.7 830.2 169.7C830.7 172.6 830.1 202.1 828.8 204.9C827.5 207.8 812.9 214.7 810.6 213.1C808.2 211.5 795.1 183.4 793.7 180.5C792.3 177.6 787.6 171 789.5 169.7Z" style="stroke-width:1.5"/><path class="t" d="M831.6 159.1L859.2 149.8L863.8 160.2L862.6 180.9L875.3 206.2L859.2 203.9L836.2 180.9Z"/><path class="t" d="M826.4 155.8C828.2 153.3 857.4 144.8 860 144.9C862.7 145 865.4 154.7 865.6 157.1C865.9 159.6 863.3 177.9 864.2 181.6C865.2 185.2 880 209.6 879.7 211.4C879.4 213.2 863.2 210.7 860 208.7C856.9 206.7 834.2 185.1 832 181.6C829.7 178 824.5 158.2 826.4 155.8Z" style="stroke-width:1.5"/><path class="t" d="M870.7 145.2L893.7 137.2L900.6 146.4L899.5 169.4L914.4 192.4L905.2 192.4L896 174L875.3 148.7Z"/><path class="t" d="M865.5 142C867 141.1 891.1 132.4 893.5 132.5C896 132.6 901.5 140.8 902 143.4C902.4 145.9 899.4 166.9 900.6 170.5C901.7 174.1 918.3 195.8 918.8 197.7C919.3 199.5 909.1 199.1 907.6 197.7C906.1 196.2 898.8 179.4 896.3 175.9C893.9 172.5 873.2 148.3 871.1 146.1C869 143.8 864 142.9 865.5 142Z" style="stroke-width:1.5"/><path class="t" d="M909.8 128L923.6 126.8L935.1 144.1L932.8 171.7L919 151Z"/><path class="t" d="M906.7 125.1C907 123.2 921.4 122.4 923.5 123.7C925.6 125 936.8 140.5 937.5 144.1C938.3 147.6 936 176.1 934.7 176.6C933.4 177.2 919.8 155.6 917.9 152.2C916 148.8 906.3 127 906.7 125.1Z" style="stroke-width:1.5"/><path class="t" d="M771.8 180.9L781 176.3L786.8 190.1L784.5 208.5L797.1 238.4L792.5 243L787.9 226.9L774.1 201.6Z"/><path class="t" d="M769 176C769.6 174 779 169.8 780.2 170.6C781.5 171.3 787 184.3 787.3 186.8C787.5 189.4 783.6 204.8 784.5 208.6C785.3 212.4 799.2 241.1 799.9 243.8C800.5 246.5 795 250.2 794.3 249.3C793.5 248.4 790.2 233.5 788.7 230.3C787.2 227 773.1 204 771.8 200.4C770.5 196.8 768.5 178 769 176Z" style="stroke-width:1.5"/><path class="t" d="M753.4 197L767.2 192.4"/><path class="t" d="M752.2 206.2L781 256.8"/><path class="t" d="M792.5 199.3L827 247.6L838.5 245.3"/><path class="t" d="M797.1 197L831.6 243"/><path class="t" d="M827 178.6L854.6 224.6"/><path class="t" d="M831.6 180.9L850 213.1"/><path class="t" d="M868.4 169.4L893.7 210.8"/><path class="t" d="M873 167.1L891.4 197"/><path class="t" d="M905.2 153.3L930.5 190.1"/><path class="t" d="M909.8 151L928.2 178.6"/><path class="t" d="M810.9 208.5L817.8 203.9L827 220L836.2 224.6"/><path class="t" d="M836.2 229.2L852.3 224.6L853.5 229.2L838.5 233.8"/><path class="t" d="M859.2 190.1L868.4 187.8L873 201.6"/><path class="t" d="M898.3 171.7L905.2 169.4L912.1 185.5"/><path class="t" d="M870.7 224.6L877.6 222.3L882.2 226.9L875.3 236.1"/><path class="t" d="M815.5 247.6L824.7 248.8L836.2 252.2"/><path class="t" d="M804 243L808.6 249.9"/><path class="t" d="M787.9 252.2L794.8 249.9L804 254.5"/><path class="t" d="M906.4 203.9L919 199.3L930.5 193.6"/><path class="t" d="M896 224.6L905.2 223.4L914.4 215.4"/><path class="t" d="M923.6 126.8L932.8 134.9L935.1 144.1"/><path class="t" d="M889.1 131.4L898.3 130.3L905.2 141.8L906.4 160.2"/><path class="t" d="M771.8 180.9L769.5 192.4L781 215.4"/><path class="t" d="M825.9 174L828.1 201.6L836.2 220L843.1 220"/><path class="t" d="M863.8 160.2L867.2 180.9L877.6 203.9"/><path class="t" d="M900.6 146.4L904 167.1L916.7 187.8"/><circle class="wt" cx="752.2" cy="188.9" r="2.3"/><circle class="wt" cx="785.6" cy="171.2" r="2.3"/><circle class="wt" cx="794.3" cy="191.2" r="2.3"/><circle class="wt" cx="782.8" cy="217" r="2.3"/><circle class="wt" cx="806.3" cy="236.8" r="2.3"/><circle class="wt" cx="789" cy="256.1" r="2.3"/><circle class="wt" cx="802.2" cy="259.6" r="2.3"/><circle class="wt" cx="823.5" cy="155.6" r="2.3"/><circle class="wt" cx="833.2" cy="175.2" r="2.3"/><circle class="wt" cx="843.1" cy="221.2" r="2.3"/><circle class="wt" cx="839.6" cy="238.4" r="2.3"/><circle class="wt" cx="859.2" cy="231.5" r="2.3"/><circle class="wt" cx="852.3" cy="141.3" r="2.3"/><circle class="wt" cx="871.9" cy="134.9" r="2.3"/><circle class="wt" cx="871.4" cy="159.1" r="2.3"/><circle class="wt" cx="866.1" cy="212.6" r="2.3"/><circle class="wt" cx="882.2" cy="205.7" r="2.3"/><circle class="wt" cx="899.9" cy="217" r="2.3"/><circle class="wt" cx="901.8" cy="123.4" r="2.3"/><circle class="wt" cx="910.3" cy="143.6" r="2.3"/><circle class="wt" cx="935.1" cy="142.9" r="2.3"/><circle class="wt" cx="935.1" cy="176.3" r="2.3"/><circle class="wt" cx="921.3" cy="190.6" r="2.3"/><circle class="wt" cx="904" cy="198.2" r="2.3"/><circle class="wt" cx="936.7" cy="200.4" r="2.3"/><circle class="wt" cx="945.5" cy="191.2" r="2.3"/><circle class="wt" cx="815.5" cy="244.6" r="3.6"/><circle cx="815.5" cy="244.6" r="1.5" fill="none" stroke="#999" stroke-width="1.1"/><circle class="wt" cx="871.9" cy="223" r="3.6"/><circle cx="871.9" cy="223" r="1.5" fill="none" stroke="#999" stroke-width="1.1"/><circle class="wt" cx="893.7" cy="211.3" r="3.6"/><circle cx="893.7" cy="211.3" r="1.5" fill="none" stroke="#999" stroke-width="1.1"/><circle class="wt" cx="914.4" cy="207.4" r="3.6"/><circle cx="914.4" cy="207.4" r="1.5" fill="none" stroke="#999" stroke-width="1.1"/><path class="l" d="M930 249L916.4 232.4"/><path class="a" d="M912 227L921.8 230.6L913.6 237.3Z"/>
</g>
<g id="parts242526">
<path class="w" d="M618.5 289.4C618.4 288.9 619.1 287.4 621 285.5C623 283.6 644.6 263.1 647.7 260.8C650.8 258.5 665.6 251.7 667.2 251.1C668.8 250.4 671.9 250.3 672.4 250.4C672.9 250.5 674.7 252.4 675 253C675.3 253.6 677.6 258.8 677.6 259.5C677.6 260.2 676.6 262.5 675 264.1C673.4 265.6 657.4 280.8 654.2 282.9C651 285 629.7 294.6 627.5 295.2C625.4 295.9 622.3 293.7 621.7 293.3C621.1 292.9 618.5 289.9 618.5 289.4Z" style="stroke-width:2.7"/><path class="t" d="M622.4 287.8C624.1 286.3 646 266.6 649 264.4C652 262.2 665.5 255.6 667.2 254.9C668.9 254.3 673.9 254.3 674.4 254.3"/><path class="t" d="M625.6 290.1C627.2 288.6 647.5 269.9 650.3 267.9C653.1 266 665.5 261.9 667.2 261.4C668.9 261 675.1 260.8 675.6 260.8"/><path class="t" d="M634 290.1L651.6 269.6L666.5 265.4L663.3 271.2L652.9 281.6Z"/><path class="t" d="M639.2 286.1L649.6 273.5M648.4 276.4L651.6 280.3M664 256.9L665.9 260.8"/><path class="w" d="M657.6 293.2L667.4 288.2L668.8 284.8L680 290.4L680 294.9L688.4 300.2L689.8 349.2L681.4 354.2L680 358.2L668.8 352.6L667.4 348.6L658.2 338Z"/><path class="t" d="M663.2 299.4L684.2 310L684.8 345L663.2 335.2Z"/><ellipse class="t" cx="673" cy="294.6" rx="1.7" ry="2.1" transform="rotate(-20 673 294.6)"/><ellipse class="t" cx="673.8" cy="349.8" rx="1.7" ry="2.1" transform="rotate(-20 673.8 349.8)"/><path class="w" d="M691.9 279C692 274.8 693.5 274.6 694.5 273.8C695.5 273 701.1 271.5 702.3 270.6C703.5 269.6 705.4 264.8 706.2 264.1C707 263.3 709.3 262.6 710.1 262.8C710.9 262.9 713.2 264.3 714 265.4C714.8 266.4 716.6 271.7 717.9 273.1C719.2 274.6 725.7 279.1 727 280.3C728.3 281.5 730.5 281.2 730.9 284.9C731.3 288.5 731.5 312.7 731.2 316.7C730.8 320.7 728.7 322.5 727 324.5C725.3 326.5 715.8 335.6 714 336.9C712.2 338.2 710.1 338.1 708.8 337.5C707.5 336.9 702.6 333.2 701 331C699.4 328.8 694.1 320.6 693.2 315.4C692.3 310.2 691.8 283.2 691.9 279Z"/><path class="t" d="M701.6 271.2C702.5 271.3 708.2 271.3 710.1 272.5C712 273.7 719.2 281.3 720.5 282.9C721.8 284.5 723 284.6 723.4 288.1C723.8 291.6 724.6 314 724.4 318C724.2 322 722.1 327.4 721.8 328.4"/><path class="t" d="M714 266C714.5 267 717.9 274.6 719.2 276.4C720.5 278.2 726.1 280 727 284.2C727.9 288.4 728.2 314.6 728.3 318"/><path class="l" d="M697.1 284.9C697.5 281.9 699.3 282.4 701 282.9C702.7 283.4 712.3 288.9 714 290.1C715.7 291.2 717.4 291.3 717.9 294.6C718.4 297.9 718.8 320.1 718.5 323.2C718.3 326.3 717.1 325.8 715.3 325.1C713.5 324.5 702.8 317.9 701 316.7C699.2 315.5 697.8 316 697.4 312.8C697 309.6 696.7 287.8 697.1 284.9Z"/><path class="t" d="M702.3 284.9C702.4 286.7 702.6 305.4 703 307.6C703.3 309.8 705 310.5 706.2 311.5C707.4 312.5 716.9 318.7 717.9 319.3"/><path class="t" d="M713.4 292C713.2 293.3 714.1 297.5 712.7 299.8C711.3 302.1 706.2 304.7 704.9 305.6"/><path class="t" d="M716 294.6C715.8 295.9 716.8 299.9 715.3 302.4C713.8 304.9 708.3 308.4 706.9 309.6"/><ellipse class="t" cx="707.8" cy="278.1" rx="1.9" ry="2.3" transform="rotate(-20 707.8 278.1)"/><ellipse class="t" cx="708.8" cy="330.6" rx="1.9" ry="2.3" transform="rotate(-20 708.8 330.6)"/><path class="l" d="M593 301.6L612.3 295.4"/><path class="a" d="M619 293.2L612 300.9L608.8 291Z"/><path class="l" d="M628 331.8L648.4 331.8"/><path class="a" d="M655.4 331.8L646.4 337L646.4 326.6Z"/><path class="l" d="M761 310L740.8 310"/><path class="a" d="M733.8 310L742.8 304.8L742.8 315.2Z"/>
</g>
<g id="filter27">
<path class="w" d="M856.9 295C861 292.5 887.1 276.1 892 273.4C896.9 270.7 897.3 271.5 899.2 272C901.1 272.4 906.3 275.3 908.2 277C910.1 278.7 914.2 284.5 915.4 286.9C916.6 289.3 918.4 295.7 918.6 297.7C918.9 299.7 917.9 302.6 917.2 304C916.5 305.4 917.2 306.4 912.7 309.8C908.2 313.1 882.5 329.8 878.5 332.4"/><path class="t" d="M892 273.8C893.5 274.8 898.3 276.6 901 279.7C903.7 282.8 906.7 288.2 908.2 292.3C909.7 296.4 909.8 300.9 910 304C910.2 307.1 909.7 309.7 909.6 310.8"/><path class="t" d="M896.5 272.5C898 273.6 902.8 275.7 905.5 278.8C908.2 281.9 911.2 287.5 912.7 291.4C914.2 295.3 914.4 299.3 914.5 302.2C914.6 305.1 913.8 307.4 913.6 308.5"/><path class="t" d="M895.2 277L900.1 274.3"/><path class="t" d="M900.1 282L905.5 279.3"/><path class="t" d="M904.6 288.7L910 286"/><path class="t" d="M907.8 295.9L913.2 293.7"/><path class="t" d="M909.5 303.1L914.5 300.9"/><ellipse class="w" cx="865" cy="314.4" rx="14.6" ry="19.6" transform="rotate(-28 865 314.4)"/><ellipse class="t" cx="865" cy="314.4" rx="11" ry="14.6" transform="rotate(-28 865 314.4)"/><ellipse class="t" cx="863.2" cy="315.7" rx="3.6" ry="4.6" transform="rotate(-28 863.2 315.7)"/><path class="l" d="M918.6 341L906.2 324.4"/><path class="a" d="M902 318.8L911.6 322.9L903.2 329.1Z"/>
</g>
<g id="part15">
<path class="w" d="M647.6 385.8C647.2 385 646.7 377.8 650.4 376C654.1 374.2 700 360.8 703.6 359.2C707.2 357.6 704.3 352.9 705 352.2C705.7 351.5 712.2 350 714.8 349.4C717.4 348.8 742.1 344.6 744.2 343.8C746.3 343 745.4 337.9 747 337.4C748.6 336.8 765.7 334.9 768 335.4C770.3 335.9 780.3 343.8 782 345.2C783.7 346.6 792.3 355 793.2 356.4C794.1 357.8 794.1 366 796 366.2C797.9 366.4 819.3 359.9 821.2 359.2C823.1 358.5 823.3 355.4 824 355C824.7 354.6 830.4 353.9 832.4 353.6C834.4 353.3 851.3 350.9 853.4 350.8C855.5 350.7 863.7 351.8 864.6 352.2C865.5 352.6 867 355.7 866.6 356.4C866.1 357.1 859.1 361.4 857.6 362C856.1 362.6 847.3 363.7 843.6 364.8C839.9 365.9 805.1 377.5 801.6 378.8C798.1 380.1 792.6 384 790.4 385C788.2 385.9 769.5 392.5 768 393.4C766.5 394.2 769.1 396.9 768 397.6C766.9 398.2 753.4 402.7 751.2 403.2C749 403.6 735.7 404.1 734.4 404.6C733.1 405 734.2 408.8 731.6 410.2C729 411.6 698.4 424.6 695.2 425.6C692 426.5 685.9 425.4 684 424.2C682.1 422.9 668.8 409.2 667.2 407.4C665.6 405.5 660.9 398.3 660.2 397C659.5 395.7 656.8 389.3 656 388.6C655.2 387.9 648 386.6 647.6 385.8Z"/><path class="t" d="M671.4 380.2L684 376L686.8 381.6L674.2 386.6Z"/><path class="t" d="M681.2 395.6L695.2 390L698 395.6L684 401.2Z"/><path class="t" d="M705 367.6L719 363.4L721.8 369L707.8 374.6Z"/><path class="t" d="M716.2 381.6L730.2 377.4L733 383L719 388.6Z"/><path class="t" d="M733 356.4L766.6 346.6L768.6 352.2L735.8 362.6Z"/><path class="t" d="M742.8 370.4L776.4 359.2L778.6 364.8L745.6 376Z"/><path class="t" d="M749.8 380.2L782 370.4L783.4 374.6L751.2 385Z"/><path class="t" d="M689.6 404L737.2 387.2L738.6 391.4L692.4 408.2Z"/><ellipse class="t" cx="699.4" cy="378.8" rx="10.5" ry="12.5" transform="rotate(-15 699.4 378.8)"/><path class="t" d="M695.2 380.2L704.2 377.4L707 382.2L697.4 385Z"/><path class="t" d="M720.4 362L748.4 390"/><path class="t" d="M727.4 359.2L754.6 386.6"/><path class="t" d="M660.2 385L692.4 420L731.6 405.4"/><path class="t" d="M770.8 341L793.2 364.8L796 366.2"/><path class="t" d="M776.4 339.6L787.6 350.8"/><path class="t" d="M796 370.4L821.2 362L853.4 354.2"/><path class="t" d="M768 393.4L790.4 380.2L801.6 374.6"/><path class="t" d="M726 401.2L737.2 405.4"/><path class="t" d="M650.4 377.4L660.2 385"/><path class="t" d="M705 353L707.8 359.2"/><path class="t" d="M745.6 338.2L748.4 345.2"/><ellipse class="t" cx="857.6" cy="354.2" rx="3.6" ry="1.8" transform="rotate(-10 857.6 354.2)"/><path class="l" d="M644.8 433.4L663 419.5"/><path class="a" d="M668.6 415.2L664.6 424.8L658.3 416.5Z"/>
</g>
<g id="part14">
<path class="w" d="M649 470C651 468.6 674 455.7 678 453.6C682 451.5 706.6 440 709 439C711.4 438 712.2 438.6 714 438C715.8 437.4 732.7 431.2 736 430C739.3 428.8 760.3 421.4 764 420C767.7 418.6 790.9 409.6 792 409C793.1 408.4 778.4 411.7 780 411C781.6 410.3 811.7 399.5 816 398C820.3 396.5 841.3 389.9 844 389C846.7 388.1 854.7 385.4 856 385.2C857.3 385 862.4 385.2 864 385.6C865.6 386 877.1 389.9 880 391C882.9 392.1 904.8 400.7 908 402C911.2 403.3 926.3 409.3 928 410C929.7 410.7 932.6 412.5 933 413C933.4 413.5 934.1 417.4 934 418C933.9 418.6 931.2 421.5 931 422.4C930.8 423.3 930.4 430.9 931 432C931.6 433.1 939.4 438.1 940 439C940.6 439.9 941 445.3 940.6 446C940.2 446.7 935.6 449.5 934 450C932.4 450.5 918.1 453.5 916 454C913.9 454.5 904.6 457.5 903 458C901.4 458.5 892.9 461.5 892 462C891.1 462.5 890.6 465.5 889 466C887.4 466.5 870.1 469.4 868 470C865.9 470.6 858.9 474.7 857 475C855.1 475.3 841.5 475.5 840 475C838.5 474.5 834.7 468.7 834 468C833.3 467.3 830.7 463.9 829 464C827.3 464.1 810.5 468.5 808 470C805.5 471.5 793.3 483.1 792 486C790.7 488.9 790.6 511 789 513C787.4 515 769.5 515.5 768 516C766.5 516.5 766.8 519.6 766 520C765.2 520.4 757.1 521.2 756 522C754.9 522.8 750.3 531 749 532C747.7 533 737.5 536.7 736 537C734.5 537.3 729.5 537.1 726 536C722.5 534.9 687 521.6 684 520C681 518.4 682.2 513.2 681 512C679.8 510.8 667.4 503.6 666 502C664.6 500.4 660.5 489.5 660 488C659.5 486.5 658.7 479.7 658 479C657.3 478.3 650.7 478.3 650 478C649.3 477.7 648.1 474.5 648 474C647.9 473.5 647 471.4 649 470Z"/><path class="l" d="M650 475C650.7 475.2 656.5 476.5 660 477.4C663.5 478.3 697.1 487.6 702 489C706.9 490.4 730.9 497.4 734 498C737.1 498.6 746.9 498.6 749 498C751.1 497.4 764.7 490.4 766 489C767.3 487.6 767.1 478.3 768 477C768.9 475.7 775.9 471.3 780 470C784.1 468.7 824.1 460 830 458C835.9 456 863.3 441.9 868 440C872.7 438.1 895.8 431.2 900 430C904.2 428.8 928.9 422.9 931 422.4"/><path class="t" d="M666 469C668.5 470 699.5 482.4 704 484C708.5 485.6 731.1 492.5 734 493C736.9 493.5 746.5 491.7 748 491C749.5 490.3 753.9 483.7 756 482C758.1 480.3 775.1 467.9 780 465.6C784.9 463.3 824.3 450.1 830 448C835.7 445.9 860 436 866 434C872 432 916.4 419.1 920 418"/><path class="t" d="M660 467C662.6 465.8 706.8 445.1 712 443C717.2 440.9 760.6 425.4 764 424C767.4 422.6 775.3 417.7 780 416C784.7 414.3 853.8 391.3 858 390C862.2 388.7 860.9 388.9 864 390C867.1 391.1 917 411.6 920 413C923 414.4 923.8 416.8 924 417"/><path class="t" d="M666 469C668.4 467.9 709.1 449.1 714 447C718.9 444.9 760.7 429.4 764 428C767.3 426.6 775.4 421.7 780 420C784.6 418.3 852.8 394.9 857 393.6C861.2 392.3 862 392.5 865 393.6C868 394.7 915.2 413.8 918 415C920.8 416.2 919.9 417.9 920 418"/><ellipse class="t" cx="681" cy="454.4" rx="3" ry="1.7" transform="rotate(-18 681 454.4)" style="stroke-width:1.3"/><ellipse class="t" cx="709" cy="444.4" rx="3" ry="1.7" transform="rotate(-18 709 444.4)" style="stroke-width:1.3"/><ellipse class="t" cx="737.6" cy="433" rx="3" ry="1.7" transform="rotate(-18 737.6 433)" style="stroke-width:1.3"/><ellipse class="t" cx="764" cy="423.6" rx="3" ry="1.7" transform="rotate(-18 764 423.6)" style="stroke-width:1.3"/><ellipse class="t" cx="674" cy="474.4" rx="3" ry="1.7" transform="rotate(-18 674 474.4)" style="stroke-width:1.3"/><ellipse class="t" cx="702" cy="485" rx="3" ry="1.7" transform="rotate(-18 702 485)" style="stroke-width:1.3"/><ellipse class="t" cx="735.6" cy="494" rx="3" ry="1.7" transform="rotate(-18 735.6 494)" style="stroke-width:1.3"/><ellipse class="t" cx="748.4" cy="490" rx="3" ry="1.7" transform="rotate(-18 748.4 490)" style="stroke-width:1.3"/><ellipse class="t" cx="757" cy="481.6" rx="3" ry="1.7" transform="rotate(-18 757 481.6)" style="stroke-width:1.3"/><ellipse class="t" cx="780" cy="473" rx="3" ry="1.7" transform="rotate(-18 780 473)" style="stroke-width:1.3"/><ellipse class="t" cx="802" cy="464" rx="3" ry="1.7" transform="rotate(-18 802 464)" style="stroke-width:1.3"/><ellipse class="t" cx="793" cy="411.4" rx="3" ry="1.7" transform="rotate(-18 793 411.4)" style="stroke-width:1.3"/><ellipse class="t" cx="819" cy="401.4" rx="3" ry="1.7" transform="rotate(-18 819 401.4)" style="stroke-width:1.3"/><ellipse class="t" cx="844" cy="392" rx="3" ry="1.7" transform="rotate(-18 844 392)" style="stroke-width:1.3"/><ellipse class="t" cx="878" cy="393.6" rx="3" ry="1.7" transform="rotate(-18 878 393.6)" style="stroke-width:1.3"/><ellipse class="t" cx="909" cy="405" rx="3" ry="1.7" transform="rotate(-18 909 405)" style="stroke-width:1.3"/><ellipse class="t" cx="925" cy="411.6" rx="3" ry="1.7" transform="rotate(-18 925 411.6)" style="stroke-width:1.3"/><ellipse class="t" cx="916" cy="419.6" rx="3" ry="1.7" transform="rotate(-18 916 419.6)" style="stroke-width:1.3"/><ellipse class="t" cx="894" cy="428" rx="3" ry="1.7" transform="rotate(-18 894 428)" style="stroke-width:1.3"/><ellipse class="t" cx="864" cy="430" rx="3" ry="1.7" transform="rotate(-18 864 430)" style="stroke-width:1.3"/><ellipse class="t" cx="802" cy="463.6" rx="3" ry="1.7" transform="rotate(-18 802 463.6)" style="stroke-width:1.3"/><path class="t" d="M659 479L666 500"/><path class="t" d="M664 480L665 494"/><path class="t" d="M670 482L674 504"/><path class="t" d="M677 486L683 514"/><path class="t" d="M688 488L688 520"/><path class="t" d="M692 490L698 516"/><path class="t" d="M701 493L705 526"/><path class="t" d="M705 494L706 512"/><path class="t" d="M712 496L716 520"/><path class="t" d="M721 499L720 524"/><path class="t" d="M726 500L727 530"/><path class="t" d="M731 502L731 532"/><path class="t" d="M744 502L744 528"/><path class="t" d="M756 498L753 522"/><path class="t" d="M768 484L768 515"/><path class="t" d="M773 484L773 514"/><path class="t" d="M778 482L778 513"/><path class="t" d="M784 480L783 512"/><path class="t" d="M788 479L789 494"/><path class="t" d="M792 486L789 513"/><path class="t" d="M856 447L858 475"/><path class="t" d="M859 448L862 458L866 446"/><path class="t" d="M868 446L868 470"/><path class="t" d="M871 445L872 470"/><path class="t" d="M876 443L878 458L880 442"/><path class="t" d="M884 440L886 452L889 439"/><path class="t" d="M891 438L890 464"/><path class="t" d="M896 436L896 462"/><path class="t" d="M902 434L903 458"/><path class="t" d="M911 431L912 439L924 440L928 449"/><path class="t" d="M918 422L918 436"/><path class="t" d="M923 421L923 434"/><path class="t" d="M928 420L928 432"/><path class="t" d="M834 468L840 458L856 450"/><path class="t" d="M931 432L920 436"/><path class="t" d="M682 461L683 474"/><path class="t" d="M688 464L700 480"/><path class="t" d="M711 452L712 480"/><path class="t" d="M715 453L716 484"/><path class="t" d="M716 452L740 484"/><path class="t" d="M740 440L740 469L760 475"/><path class="t" d="M744 441L744 468"/><path class="t" d="M745 441L768 473"/><path class="t" d="M767 430L766 460"/><path class="t" d="M772 428L772 454"/><path class="t" d="M780 439L780 449L788 436L789 447"/><path class="t" d="M798 421L796 440"/><path class="t" d="M798 421L804 440"/><path class="t" d="M808 428L808 439L815 426L816 437"/><path class="t" d="M824 411L823 430"/><path class="t" d="M824 411L830 430"/><path class="t" d="M833 419L833 436L840 418"/><path class="t" d="M758 445L764 444.4L765 460"/><path class="t" d="M676 475L686 477L700 482"/><path class="t" d="M798 422L795 440"/><path class="t" d="M798 422L804 439"/><path class="t" d="M808 428L807 438L815 426L816 436"/><path class="t" d="M823 411L823 430"/><path class="t" d="M823 411L830 430"/><path class="t" d="M833 420L833 432L839 418L840 429"/><path class="t" d="M843 403L842 428"/><path class="t" d="M843 403L853 431"/><path class="t" d="M859 391L859 423L872 428"/><path class="t" d="M865 393L865 420"/><path class="t" d="M874 397L874 427"/><path class="t" d="M880 399L879 428"/><path class="t" d="M904 408L904 420"/><path class="t" d="M908 409L908 419"/><ellipse class="wt" cx="721" cy="477" rx="3.8" ry="1.8"/><path class="t" d="M717.2 477L716.4 488M724.8 477L725.6 489"/><ellipse class="wt" cx="782" cy="457" rx="3.8" ry="2"/><path class="t" d="M778.2 457L778.2 460M785.8 457L785.8 460"/><ellipse class="t" cx="791" cy="453.6" rx="3.6" ry="2" style="stroke-width:1.5"/><ellipse class="t" cx="798" cy="450" rx="3.6" ry="2" style="stroke-width:1.5"/><ellipse class="t" cx="808" cy="449.6" rx="3.6" ry="2" style="stroke-width:1.5"/><ellipse class="t" cx="816" cy="449" rx="3.6" ry="2" style="stroke-width:1.5"/><ellipse class="t" cx="810" cy="443.6" rx="3.6" ry="2" style="stroke-width:1.5"/><ellipse class="t" cx="818" cy="442.4" rx="3.6" ry="2" style="stroke-width:1.5"/><ellipse class="t" cx="825" cy="443.6" rx="3.6" ry="2" style="stroke-width:1.5"/><ellipse class="t" cx="825" cy="437" rx="3.6" ry="2" style="stroke-width:1.5"/><ellipse class="t" cx="833" cy="440" rx="3.6" ry="2" style="stroke-width:1.5"/><ellipse class="t" cx="790" cy="459" rx="3.6" ry="2" style="stroke-width:1.5"/><ellipse class="t" cx="801" cy="457" rx="3.6" ry="2" style="stroke-width:1.5"/><ellipse class="t" cx="864" cy="430" rx="3.6" ry="2" style="stroke-width:1.5"/><ellipse class="t" cx="802" cy="457" rx="3.6" ry="2" style="stroke-width:1.5"/><ellipse class="t" cx="791" cy="452.4" rx="3.6" ry="2" style="stroke-width:1.5"/><ellipse class="t" cx="808" cy="450" rx="3.6" ry="2" style="stroke-width:1.5"/><ellipse class="t" cx="817" cy="449.6" rx="3.6" ry="2" style="stroke-width:1.5"/><ellipse class="t" cx="825" cy="444" rx="3.6" ry="2" style="stroke-width:1.5"/><ellipse class="t" cx="834" cy="440.4" rx="3.6" ry="2" style="stroke-width:1.5"/><ellipse class="t" cx="817" cy="443" rx="3.6" ry="2" style="stroke-width:1.5"/><ellipse class="t" cx="825" cy="437" rx="3.6" ry="2" style="stroke-width:1.5"/><path class="l" d="M617.7 476.2L638 476.2"/><path class="a" d="M645 476.2L636 481.4L636 471Z"/>
</g>
<g id="part23">
<path class="w" d="M581 356.3C582.4 356.4 585.9 355.4 589.4 357.1C592.9 358.9 597.6 362.6 602 366.8C606.4 370.9 612.1 376.6 615.6 381.9C619.2 387.2 622 394 623.4 398.7C624.8 403.4 624.6 406.7 624 410.2C623.5 413.8 622 417.6 619.9 420.1C617.8 422.6 614.8 424.5 611.5 425.2C608.1 425.9 603.6 425.3 599.9 424.3C596.2 423.3 592.5 421 589.4 419.3C586.2 417.5 582.4 414.7 581 413.8"/><path class="t" d="M590.5 360.9C592.4 362.5 598.1 366.3 602 370.4C605.9 374.4 610.5 380 613.5 385.1C616.6 390.1 619.4 395.9 620.5 400.8C621.5 405.7 620 412.2 619.9 414.4"/><path class="w" d="M488.6 353.6C489.5 352.5 489 348.7 489.6 347.9C490.3 347 493.6 345.1 494.9 345.1C496.2 345.2 500.7 348 502.2 348.7C503.8 349.5 508.4 352.6 510 352.5C511.6 352.4 515.8 349.2 518 347.9C520.2 346.5 530.7 340.9 532.3 338.9C533.9 336.8 533.6 329 534 327.3C534.3 325.6 535.1 322.3 535.9 321.4C536.6 320.5 539.9 318.5 541.1 318.5C542.3 318.4 546 320.1 547.4 321C548.8 321.9 554.3 326.2 555.4 327.7C556.4 329.2 557.8 334.4 557.9 336.1C558 337.8 555.6 343.2 556.2 344.5C556.9 345.8 562.7 348.7 564.2 349.4C565.7 350 570.3 351 571.5 350.8C572.8 350.7 575.5 347.9 576.8 347.9C578.1 347.9 583.5 350.1 584.8 351C586 351.9 589.6 355.5 589.4 356.7C589.2 357.9 584.7 361.3 583.1 363C581.5 364.7 573 371.2 573.6 373.5C574.3 375.8 587.3 383.8 589.4 386.1C591.5 388.4 594.1 394.8 594.6 396.6C595.2 398.4 595.2 402.5 594.6 403.9C594.1 405.4 590.8 410.3 589.4 411.3C588 412.3 582.5 413.3 581 413.8C579.5 414.4 575.2 414.7 574.1 416.8C572.9 418.8 570.4 431 569.5 434.6C568.5 438.2 564.8 450.5 564.6 452.4C564.5 454.4 567.5 453.1 567.8 453.9C568 454.8 567.9 459.8 567.4 460.9C566.8 461.9 564.1 464.2 562.1 464C560.1 463.8 549.1 459.8 547.4 459.2C545.7 458.6 546.1 457.3 545.3 458.1C544.5 459 539.9 466.5 539 467.8C538.1 469.1 536.9 471.2 535.9 471.4C534.8 471.5 530.5 470.2 528.5 469.2C526.5 468.3 517.2 464.7 515.9 462.3C514.6 459.9 516.6 447.7 515.9 445.5C515.2 443.4 509.5 442.2 508.6 440.9C507.6 439.6 507.3 434.1 506.4 432.5C505.6 430.9 502.7 427.2 500.1 425.1C497.6 423 483.2 414.5 481.2 411.5C479.3 408.5 480.7 397.2 480.2 395.1C479.7 393 476.8 391.8 476 390.3C475.2 388.8 472 382.1 471.8 379.8C471.6 377.5 473.1 369.3 473.9 367.2C474.7 365.1 478.7 360.2 480.2 358.8C481.7 357.4 487.7 354.6 488.6 353.6Z"/><ellipse class="w" cx="486.5" cy="377.3" rx="15.7" ry="18.5" transform="rotate(-12 486.5 377.3)"/><ellipse class="t" cx="486.8" cy="377.3" rx="12.4" ry="15.4" transform="rotate(-12 486.8 377.3)"/><ellipse class="t" cx="488" cy="377.8" rx="9.6" ry="12.8" transform="rotate(-12 488 377.8)"/><path class="t" d="M494.9 360.9C495.9 361.1 503.7 362.2 505.4 363C507.1 363.8 511 367.4 511.7 369.3C512.4 371.2 512.6 380.6 512.8 381.9"/><path class="t" d="M502.2 384C502.6 383.5 504.5 379.3 505.4 378.8C506.3 378.2 511.1 378.8 511.7 378.8"/><path class="t" d="M508.6 387.1C509 386.6 509.7 383.7 512.8 381.9C515.8 380.1 533.9 372.2 539 369.3C544.1 366.4 560.9 354.3 564.2 352.5C567.5 350.7 570.8 351.6 571.5 351.4"/><path class="t" d="M515.9 392.4C518.4 390.5 535.9 376.8 541.1 373.5C546.4 370.2 565.7 361.2 568.4 359.9"/><path class="t" d="M511.7 369.3C513 369.8 522 374.8 524.3 374.6C526.6 374.3 533.8 367.9 534.8 367.2"/><path class="t" d="M534.8 340.9L548.5 350.4"/><path class="t" d="M550.5 333.6C550.4 334.4 549.2 340.2 549.5 342C549.8 343.8 553.3 350.5 553.7 351.4"/><path class="t" d="M510.6 388.2C510.3 389.2 507.7 394.5 507.5 398.7C507.3 402.9 508.1 426.2 508.6 430.2C509 434.2 511.4 437.8 511.7 438.6"/><path class="t" d="M513.8 393.4L512.8 434.4"/><path class="t" d="M526.4 409.2C526.6 408.1 527.7 400.3 528.5 398.7C529.3 397.1 533.1 394.4 534.8 393.4C536.5 392.5 544.2 389.7 545.3 389.2"/><path class="t" d="M568.4 397.6C569.7 397.4 578.9 396 581 395.6C583.1 395.1 588.6 393.7 589.4 393.4"/><path class="t" d="M523.2 411.3C523.7 410.8 525.5 405.5 527.5 406.1C529.4 406.6 541.6 415.5 543.2 416.6"/><path class="t" d="M523.2 411.3C523.4 411.9 522.5 416.1 524.3 417.6C526.1 419.1 539.4 425.2 541.1 426"/><path class="t" d="M551.6 419.7C552.6 419.6 560.4 418.5 562.1 418.6C563.8 418.8 568 419.8 568.4 420.8C568.8 421.7 567.1 426.7 566.3 428.1C565.5 429.5 561.9 433.6 560 434.4C558.1 435.2 548.9 437.1 547.4 436.5C545.9 435.9 545.5 428.9 545.3 428.1"/><path class="t" d="M532.7 423.9C532.1 425.8 526.6 440.3 526.4 442.8C526.2 445.3 530.2 448.5 530.6 449.1"/><path class="t" d="M547.4 436.5C547.5 437.1 549.1 441.1 548.5 442.8C547.8 444.5 542.9 452.5 541.1 453.3C539.3 454.1 531.6 451.4 530.6 451.2"/><path class="t" d="M548.5 442.8C549.2 443 554.9 445.5 555.8 444.9C556.7 444.3 557.7 437.3 557.9 436.5"/><path class="t" d="M572.6 373.5L567.4 363"/><path class="t" d="M544.2 380.9L546.4 388.2"/><path class="wt" d="M545.3 380.9C547 379.3 557.5 374.7 560 374.6C562.5 374.4 564.6 378.2 566.3 379.8C568 381.4 573.5 386.5 574.7 388.2C575.9 389.9 577 393.3 576.4 394.5C575.8 395.7 571.9 398.5 569.5 398.3C567 398.1 558.6 394 555.8 392.8C553 391.6 546.9 389.6 545.7 388.2C544.5 386.8 543.6 382.4 545.3 380.9Z"/><path class="t" d="M515.9 445.1L530.6 451.4L535.9 471.4"/><path class="t" d="M530.6 451.4L543.2 447.2L549.5 434.6"/><path class="t" d="M547.4 450.4L564.2 455.6"/><path class="t" d="M547.4 450.4L545.3 457.7"/><ellipse class="t" cx="564.8" cy="388.2" rx="4.8" ry="3.4"/><ellipse class="t" cx="564.8" cy="388.2" rx="2.2" ry="1.5"/><ellipse class="wt" cx="546.8" cy="421.8" rx="4" ry="4.6"/><ellipse class="t" cx="546.8" cy="421.8" rx="1.8" ry="2.4"/><ellipse class="wt" cx="569.5" cy="359.4" rx="3.8" ry="4.6" transform="rotate(-20 569.5 359.4)"/><ellipse class="wt" cx="515.9" cy="389.2" rx="3.8" ry="4.6" transform="rotate(-20 515.9 389.2)"/><ellipse class="wt" cx="526.4" cy="400.4" rx="3.8" ry="4.6" transform="rotate(-20 526.4 400.4)"/><ellipse class="wt" cx="517" cy="431.9" rx="3.8" ry="4.6" transform="rotate(-20 517 431.9)"/><ellipse class="wt" cx="525.4" cy="444.5" rx="3.8" ry="4.6" transform="rotate(-20 525.4 444.5)"/><ellipse class="t" cx="510" cy="357.8" rx="1.5" ry="2.2"/><ellipse class="t" cx="553.7" cy="333.2" rx="1.5" ry="2.2"/><circle class="t" cx="535.9" cy="464.6" r="0.8"/><path class="l" d="M556.8 492.3L556.8 471"/><path class="a" d="M556.8 464L562 473L551.6 473Z"/>
</g>
<g id="part5">
<ellipse cx="270.1" cy="608.3" rx="30.5" ry="41" transform="rotate(-19 270.1 608.3)" fill="#126808" stroke="#000" stroke-width="2.4"/><ellipse cx="267.1" cy="608.1" rx="30.5" ry="41.5" transform="rotate(-19 267.1 608.1)" fill="#126808" stroke="#000" stroke-width="1.6"/><ellipse cx="263.8" cy="608" rx="30.5" ry="42" transform="rotate(-19 263.8 608)" fill="#126808" stroke="#000" stroke-width="1.6"/><ellipse cx="260.6" cy="607.8" rx="30.5" ry="42.5" transform="rotate(-19 260.6 607.8)" fill="#126808" stroke="#000" stroke-width="2.4"/><ellipse cx="263.6" cy="609.8" rx="22.5" ry="32" transform="rotate(-19 263.6 609.8)" fill="none" stroke="#000" stroke-width="1.8"/><ellipse cx="265.1" cy="610.3" rx="20" ry="29.5" transform="rotate(-19 265.1 610.3)" fill="none" stroke="#000" stroke-width="1.8"/><ellipse cx="268.1" cy="609.8" rx="17.5" ry="28.5" transform="rotate(-19 268.1 609.8)" fill="#126808" stroke="#000" stroke-width="2"/><path d="M262.2 538.9V558" fill="none" stroke="#000" stroke-width="2.4"/><path d="M262.2 566L256.4 557.4H268Z" fill="#000"/>
</g>
<g id="parts123">
<ellipse class="wt" cx="201.5" cy="625.5" rx="22.5" ry="33.5" transform="rotate(-17 201.5 625.5)" style="stroke-width:2.2"/><ellipse class="wt" cx="197.6" cy="626.4" rx="22.2" ry="32.9" transform="rotate(-17 197.6 626.4)" style="stroke-width:1.7"/><ellipse class="wt" cx="193.8" cy="627.2" rx="22" ry="32.2" transform="rotate(-17 193.8 627.2)" style="stroke-width:1.7"/><ellipse class="wt" cx="189.9" cy="628.1" rx="21.8" ry="31.6" transform="rotate(-17 189.9 628.1)" style="stroke-width:1.7"/><ellipse class="wt" cx="186" cy="629" rx="21.5" ry="31" transform="rotate(-17 186 629)" style="stroke-width:2.2"/><ellipse class="t" cx="184.5" cy="630.5" rx="15.5" ry="23" transform="rotate(-17 184.5 630.5)" style="stroke-width:1.8"/><ellipse class="t" cx="183" cy="631.5" rx="9.5" ry="14.5" transform="rotate(-17 183 631.5)" style="stroke-width:1.8"/><ellipse class="t" cx="182.5" cy="632" rx="5.8" ry="9.2" transform="rotate(-17 182.5 632)" style="stroke-width:1.8"/><path class="t" d="M180 623.5C180.4 624.9 181.3 629.3 182.5 632C183.7 634.7 186.2 638.2 187 639.5" style="stroke-width:1.8"/><path class="l" d="M198 565.1L198 586.5"/><path class="a" d="M198 593.5L192.8 584.5L203.2 584.5Z"/><ellipse class="w" cx="137.4" cy="642.4" rx="19.5" ry="24.5" transform="rotate(-17 137.4 642.4)"/><ellipse class="w" cx="133.9" cy="642.4" rx="19.5" ry="24.5" transform="rotate(-17 133.9 642.4)"/><ellipse class="t" cx="131.4" cy="643.5" rx="4.4" ry="6.2" transform="rotate(-17 131.4 643.5)"/><path class="l" d="M132.5 591.4L132.5 611.3"/><path class="a" d="M132.5 618.3L127.3 609.3L137.7 609.3Z"/><path class="w" d="M64.7 662.8L87.8 653.4L92.6 655.5L93.4 662.8L90.9 666L68.8 675Z"/><path class="t" d="M71 661.1L72.6 672.2"/><path class="t" d="M74.7 659.6L76.4 670.7"/><path class="t" d="M78.5 658.1L80.2 669.2"/><path class="t" d="M82.3 656.6L84 667.7"/><path class="t" d="M86.1 655.1L87.8 666.2"/><path class="t" d="M89.8 653.6L91.5 664.7"/><ellipse class="w" cx="60.3" cy="669.1" rx="8.2" ry="11" transform="rotate(-22 60.3 669.1)"/><ellipse class="w" cx="55.8" cy="670.6" rx="7.6" ry="10.8" transform="rotate(-22 55.8 670.6)"/><path class="t" d="M52 662.8L56.2 661.1"/><path class="t" d="M51 667L58.4 664.5"/><path class="t" d="M52 671.6L59.8 668.7"/><path class="t" d="M53.5 675.8L61.5 672.9"/><path class="t" d="M56.2 679.6L63.6 676.5"/><path class="l" d="M57.3 629.2L57.3 650.5"/><path class="a" d="M57.3 657.5L52.1 648.5L62.5 648.5Z"/>
</g>
<g id="part4">
<path class="w" d="M327.3 463C328.7 460.9 330.5 459.3 332.2 458.7C334 458.1 338 457.7 340.4 458.7C342.8 459.7 347.6 463.9 350.2 466.2C352.8 468.5 357.8 474.3 360 476C362.2 477.8 365.2 477.8 366.5 479.3C367.8 480.8 369.1 484.6 369.8 487.4C370.4 490.3 370.3 495.3 371.4 500.5C372.5 505.7 375.8 521.8 378 526.6C380.1 531.4 385.4 534.3 387.8 536.4C390.1 538.6 394 540.1 395.9 543C397.9 545.8 400.7 554.2 402.4 557.7C404.2 561.1 407.9 565.8 409 569.1C410.1 572.3 410 578.7 410.6 582.1C411.3 585.6 414.1 590.9 413.9 595.2C413.7 599.6 409.4 610 409 614.8C408.5 619.6 411.3 628.1 410.6 631.1C410 634.2 407.1 636.1 404.1 637.7C401 639.2 390.8 642.6 387.8 642.6C384.7 642.6 384.1 638.7 381.2 637.7C378.4 636.6 370 634.8 366.5 634.4C363 634 358.8 635 355.1 634.4C351.4 633.7 343.6 632.1 338.8 629.5C334 626.9 323.5 619.8 319.2 614.8C314.8 609.8 308.7 597.2 306.1 591.9C303.5 586.7 300.7 579.5 299.6 575.6C298.5 571.7 297.3 565.2 298 562.6C298.6 559.9 303.2 558.6 304.5 556C305.8 553.4 308.2 546.4 307.8 543C307.3 539.5 301.9 532.7 301.2 529.9C300.6 527.1 301.8 523 302.9 521.7C303.9 520.4 308.3 521.6 309.4 520.1C310.5 518.6 311.2 513.4 311 510.3C310.8 507.3 308.2 500.5 307.8 497.2C307.3 494 306.7 488 307.8 485.8C308.8 483.6 314 482.4 315.9 480.9C317.9 479.4 320.9 476.8 322.4 474.4C324 472 326 465 327.3 463Z" style="stroke-width:2.1"/><ellipse class="t" cx="333.9" cy="593.6" rx="31" ry="41.5" transform="rotate(-20 333.9 593.6)"/><ellipse class="t" cx="335.4" cy="593.6" rx="27.5" ry="38" transform="rotate(-20 335.4 593.6)"/><ellipse class="t" cx="334.9" cy="594.6" rx="18.5" ry="24.5" transform="rotate(-20 334.9 594.6)"/><ellipse class="t" cx="335.9" cy="594.6" rx="15.5" ry="21.5" transform="rotate(-20 335.9 594.6)"/><ellipse class="t" cx="378" cy="569.1" rx="18.5" ry="25" transform="rotate(-20 378 569.1)"/><ellipse class="t" cx="379" cy="569.1" rx="15" ry="21.5" transform="rotate(-20 379 569.1)"/><ellipse class="t" cx="322.4" cy="489.1" rx="8.6" ry="6.6" transform="rotate(-15 322.4 489.1)"/><ellipse class="t" cx="322.4" cy="489.1" rx="6.2" ry="4.6" transform="rotate(-15 322.4 489.1)"/><circle class="wt" cx="357.4" cy="482.6" r="3.4"/><circle cx="357.4" cy="482.6" r="1.4" fill="none" stroke="#999" stroke-width="1.1"/><circle class="wt" cx="361.6" cy="532.5" r="3.4"/><circle cx="361.6" cy="532.5" r="1.4" fill="none" stroke="#999" stroke-width="1.1"/><circle class="wt" cx="352.5" cy="555" r="3.4"/><circle cx="352.5" cy="555" r="1.4" fill="none" stroke="#999" stroke-width="1.1"/><circle class="wt" cx="389.4" cy="542" r="3.4"/><circle cx="389.4" cy="542" r="1.4" fill="none" stroke="#999" stroke-width="1.1"/><circle class="wt" cx="401.8" cy="565.2" r="3.4"/><circle cx="401.8" cy="565.2" r="1.4" fill="none" stroke="#999" stroke-width="1.1"/><circle class="wt" cx="407.3" cy="593.6" r="3.4"/><circle cx="407.3" cy="593.6" r="1.4" fill="none" stroke="#999" stroke-width="1.1"/><circle class="wt" cx="301.6" cy="565.2" r="3.4"/><circle cx="301.6" cy="565.2" r="1.4" fill="none" stroke="#999" stroke-width="1.1"/><path class="t" d="M312.7 500.5L329 513.6L361.6 526.6" style="stroke-width:1.6"/><path class="t" d="M315.9 494L358.4 521.7" style="stroke-width:1.6"/><path class="t" d="M332.2 467.9L345.3 477.7L353.5 494L358.4 526.6" style="stroke-width:1.6"/><path class="t" d="M360 487.4L368.2 510.3L373.1 521.7" style="stroke-width:1.6"/><path class="t" d="M363.3 485.8L374.7 520.1" style="stroke-width:1.6"/><path class="t" d="M330.6 518.5L332.2 539.7" style="stroke-width:1.6"/><path class="t" d="M340.4 521.7L343.7 543" style="stroke-width:1.6"/><path class="t" d="M350.2 525L351.8 549.5" style="stroke-width:1.6"/><path class="t" d="M311 529.9L319.2 538.1L322.4 543" style="stroke-width:1.6"/><path class="t" d="M302.9 543L319.2 546.2L345.3 549.5" style="stroke-width:1.6"/><path class="t" d="M319.2 559.3L320.8 570.7" style="stroke-width:1.6"/><path class="t" d="M329 557.7L329.6 569.1" style="stroke-width:1.6"/><path class="t" d="M338.8 559.3L338.8 569.1" style="stroke-width:1.6"/><path class="t" d="M346.9 569.1L350.2 578.9" style="stroke-width:1.6"/><path class="t" d="M358.4 591.9L368.2 595.2" style="stroke-width:1.6"/><path class="t" d="M358.4 605L369.8 608.3" style="stroke-width:1.6"/><path class="t" d="M355.1 618.1L366.5 623" style="stroke-width:1.6"/><path class="t" d="M378 595.2L394.3 598.5L404.1 608.3L405.7 627.9" style="stroke-width:1.6"/><path class="t" d="M394.3 614.8L400.8 631.1L391 634.4" style="stroke-width:1.6"/><path class="t" d="M369.8 595.2L371.4 621.3L366.5 634.4" style="stroke-width:1.6"/><path class="t" d="M332.2 503.8L342 507L345.3 500.5" style="stroke-width:1.6"/><path class="t" d="M402.4 570.7L404.1 585.4" style="stroke-width:1.6"/><path class="t" d="M391 588.7L397.6 598.5" style="stroke-width:1.6"/><path class="t" d="M309.4 511.9L315.9 513.6" style="stroke-width:1.6"/><path class="l" d="M349.2 663.8L349.2 644.7"/><path class="a" d="M349.2 637.7L354.4 646.7L344 646.7Z"/>
</g>
<g id="box16">
<path class="w" d="M626 605.4C622 607.7 630.3 613.9 630.7 615.8C631 617.7 630.6 631.7 631.2 634C631.8 636.3 635.5 646.8 639 649.6C642.5 652.4 679.8 673.8 683.2 675.6C686.6 677.4 688.3 677.2 689.7 676.9C691.1 676.6 700.8 671.4 704 670.4C707.2 669.4 735.3 663.5 737.8 662.6C740.3 661.7 741.3 658.6 741.7 657.4C742.1 656.2 743.7 646.5 744.3 644.4C744.9 642.3 750.6 629.1 750.8 626.2C751 623.3 751.7 604.4 747.7 601.5C743.7 598.6 699.1 581.7 691 582C682.9 582.3 630 603.1 626 605.4Z"/><path class="t" d="M649.4 644.4L649.4 654.3"/><path class="t" d="M661.1 649.6L661.1 660"/><path class="t" d="M684.5 666.5L684.5 675.6"/><path class="t" d="M697.5 660L697.5 671.7"/><path class="t" d="M713.1 665.2L713.1 670.4"/><path class="t" d="M687.1 660L696.2 657.9L704 657.4L709.2 652.2"/><path d="M623.4 582C624.9 579.3 628.3 575.5 633.8 572.1C639.3 568.7 657.4 559.4 665 556.5C672.6 553.7 685.8 550.9 691 550.8C696.2 550.7 700.2 554.3 704 556C707.8 557.7 714.7 562.9 719.6 563.8C724.5 564.7 735.5 562.3 740.4 563C745.3 563.7 752.7 566.8 756 569C759.3 571.2 764.4 576.8 765.1 579.4C765.8 582 763.5 585.6 761.2 588.5C758.9 591.4 748.9 597.9 747.7 601.5C746.5 605.1 751.7 612.5 752.1 615.8C752.5 619.1 752.4 623.4 750.8 626.2C749.2 629 744.2 633.7 740.4 636.6C736.6 639.5 727.1 646.6 722.2 648.3C717.3 650 707.6 650.2 704 649.6C700.4 649 697 645.5 694.9 643.6C692.8 641.8 691 637.6 688.4 635.8C685.8 634 680.3 632.6 675.4 630.1C670.5 627.6 658.2 620.5 652 617.1C645.8 613.7 633 607.9 629.1 604.6C625.2 601.3 623.4 595.4 622.6 592.4C621.9 589.4 621.9 584.7 623.4 582Z" fill="#fff" stroke="#999" stroke-width="9" stroke-linejoin="round"/><path d="M623.4 582C624.9 579.3 628.3 575.5 633.8 572.1C639.3 568.7 657.4 559.4 665 556.5C672.6 553.7 685.8 550.9 691 550.8C696.2 550.7 700.2 554.3 704 556C707.8 557.7 714.7 562.9 719.6 563.8C724.5 564.7 735.5 562.3 740.4 563C745.3 563.7 752.7 566.8 756 569C759.3 571.2 764.4 576.8 765.1 579.4C765.8 582 763.5 585.6 761.2 588.5C758.9 591.4 748.9 597.9 747.7 601.5C746.5 605.1 751.7 612.5 752.1 615.8C752.5 619.1 752.4 623.4 750.8 626.2C749.2 629 744.2 633.7 740.4 636.6C736.6 639.5 727.1 646.6 722.2 648.3C717.3 650 707.6 650.2 704 649.6C700.4 649 697 645.5 694.9 643.6C692.8 641.8 691 637.6 688.4 635.8C685.8 634 680.3 632.6 675.4 630.1C670.5 627.6 658.2 620.5 652 617.1C645.8 613.7 633 607.9 629.1 604.6C625.2 601.3 623.4 595.4 622.6 592.4C621.9 589.4 621.9 584.7 623.4 582Z" fill="none" stroke="#fff" stroke-width="5" stroke-linejoin="round"/><path d="M623.4 582C624.9 579.3 628.3 575.5 633.8 572.1C639.3 568.7 657.4 559.4 665 556.5C672.6 553.7 685.8 550.9 691 550.8C696.2 550.7 700.2 554.3 704 556C707.8 557.7 714.7 562.9 719.6 563.8C724.5 564.7 735.5 562.3 740.4 563C745.3 563.7 752.7 566.8 756 569C759.3 571.2 764.4 576.8 765.1 579.4C765.8 582 763.5 585.6 761.2 588.5C758.9 591.4 748.9 597.9 747.7 601.5C746.5 605.1 751.7 612.5 752.1 615.8C752.5 619.1 752.4 623.4 750.8 626.2C749.2 629 744.2 633.7 740.4 636.6C736.6 639.5 727.1 646.6 722.2 648.3C717.3 650 707.6 650.2 704 649.6C700.4 649 697 645.5 694.9 643.6C692.8 641.8 691 637.6 688.4 635.8C685.8 634 680.3 632.6 675.4 630.1C670.5 627.6 658.2 620.5 652 617.1C645.8 613.7 633 607.9 629.1 604.6C625.2 601.3 623.4 595.4 622.6 592.4C621.9 589.4 621.9 584.7 623.4 582Z" fill="none" stroke="#999" stroke-width="1.6" stroke-linejoin="round" stroke-dasharray="7 6.5" stroke-linecap="round"/><path class="t" d="M662.4 566.4L662.4 593.7"/><path class="t" d="M692.3 558.6L692.3 585.9"/><path class="t" d="M740.4 570.3L740.4 598.9"/><path class="t" d="M644.2 606.7C645.7 605.8 658.5 597.8 662.4 596.3C666.3 594.8 686.7 588.7 691 589.3C695.3 589.8 711.1 601.7 714.4 602.8C717.6 603.9 727.7 603 730 602.8C732.3 602.6 740.7 600.4 741.7 600.2"/><path class="l" d="M788.5 612.7H804"/><ellipse class="w" cx="586.3" cy="624.3" rx="17.3" ry="20.6" transform="rotate(-15 586.3 624.3)"/><ellipse class="t" cx="586.3" cy="624.3" rx="9.6" ry="12.2" transform="rotate(-15 586.3 624.3)"/><ellipse class="w" cx="525.8" cy="651" rx="12.5" ry="14.5" transform="rotate(-25 525.8 651)"/><ellipse class="w" cx="528.3" cy="650" rx="13" ry="15" transform="rotate(-25 528.3 650)"/><path class="w" d="M526.8 642.8C529.8 640.6 544.4 632.4 548.4 630.8C552.4 629.2 555.1 629.8 556.8 630.8C558.5 631.8 561 636.2 561.1 638C561.3 639.8 561.1 641.8 558 644C554.9 646.2 541.4 653.5 537.6 654.8C533.8 656.1 530.8 654.6 529.2 653.6C527.6 652.6 525.9 649 525.6 647.6C525.3 646.2 523.8 645 526.8 642.8Z"/><path class="t" d="M547.2 632C546.8 633 544.6 635.8 544.8 638C545 640.2 546.8 643.8 548.4 645.2C550 646.6 553.4 646.2 554.4 646.4"/><path class="t" d="M514.1 648.8L516 657.2L520.8 661.5"/><path class="l" d="M482.9 627.9H498"/>
</g>
<g id="part18">
<path d="M832 541C833.4 541.1 836.9 541 840.4 542C843.9 543 848.8 545.3 853 547.2C857.2 549.2 861.4 551.3 865.6 553.5C869.8 555.8 874 558.3 878.2 560.9C882.4 563.5 886.6 566.4 890.8 568.9C895 571.3 900.1 574 903.4 575.6C906.7 577.2 908.3 578.2 910.8 578.8C913.2 579.3 915.8 579.3 918.1 578.8C920.4 578.2 922.7 577.1 924.4 575.2C926.1 573.3 927.5 570.3 928.2 567.2C928.9 564.1 928.5 560 928.6 556.7C928.7 553.4 928.6 548.8 928.6 547.2" fill="none" stroke="#999" stroke-width="6.6" stroke-linejoin="round" stroke-linecap="round"/><path d="M832 541C833.4 541.1 836.9 541 840.4 542C843.9 543 848.8 545.3 853 547.2C857.2 549.2 861.4 551.3 865.6 553.5C869.8 555.8 874 558.3 878.2 560.9C882.4 563.5 886.6 566.4 890.8 568.9C895 571.3 900.1 574 903.4 575.6C906.7 577.2 908.3 578.2 910.8 578.8C913.2 579.3 915.8 579.3 918.1 578.8C920.4 578.2 922.7 577.1 924.4 575.2C926.1 573.3 927.5 570.3 928.2 567.2C928.9 564.1 928.5 560 928.6 556.7C928.7 553.4 928.6 548.8 928.6 547.2" fill="none" stroke="#fff" stroke-width="2.1" stroke-linejoin="round" stroke-linecap="round"/><path class="w" d="M810.4 521L811 542L816.2 550.8L824.6 551.5L832 543L833 521"/><ellipse class="w" cx="821.5" cy="521" rx="11.2" ry="5.8"/><ellipse class="t" cx="821.5" cy="521.6" rx="7" ry="3.2"/><path class="t" d="M811.4 541L818.4 543L831.6 541M818.4 543L818.8 551M824.6 543L824.6 551.5"/><path class="w" d="M924 547.2L923.4 529.4L927.5 524.6L934.9 524.1L937 527.3L945.4 526.9L946.5 530.5L954.9 530.5L955.9 538.9L951.7 541.6L946.5 541L945.4 543.7L938 544.5L934.9 547.2Z"/><path class="t" d="M934.9 524.8L932.8 533.6L934.9 546.6"/><path class="t" d="M938 527.7L937 535.7L938.7 544.1"/><path class="t" d="M941.6 527.3L940.8 535.7L942 544.1"/><path class="t" d="M945.4 527.3L944.6 535.7L945.8 543.3"/><path class="t" d="M924.4 537.8L932.8 536.8"/><path class="t" d="M928.6 537.8L929 547.2"/><path class="t" d="M946.5 530.9L950.6 533.6L951.7 541.2"/><path class="t" d="M950.6 533.6L955.5 531.1"/><path class="l" d="M910.7 610.2L910.7 590"/><path class="a" d="M910.7 583L915.9 592L905.5 592Z"/>
</g>
<g id="labels">
<text class="n" x="130" y="78">19</text>
<text class="n" x="291" y="100">20</text>
<text class="n" x="491" y="51">6</text>
<text class="n" x="440.5" y="103.700">7</text>
<text class="n" x="719" y="60.400">12</text>
<text class="n" x="929.500" y="62.500">10</text>
<text class="n" x="131.500" y="221">21</text>
<text class="n" x="492.500" y="282.300">8</text>
<text class="n" x="373" y="326.300">9</text>
<text class="n" x="734.500" y="274.300">13</text>
<text class="n" x="925" y="278.400">11</text>
<text class="n" x="557" y="317.800">26</text>
<text class="n" x="766" y="323.200">24</text>
<text class="n" x="590.500" y="347.200">25</text>
<text class="n" x="910.200" y="373.800">27</text>
<text class="n" x="612.600" y="456.600">15</text>
<text class="n" x="580" y="490.200">14</text>
<text class="n" x="538.700" y="522.800">23</text>
<text class="n" x="401" y="514.400">22</text>
<text class="n" x="251.700" y="532.200" style="fill:#000;stroke:#000;stroke-width:0.4px">5</text>
<text class="n" x="188.500" y="561.500">1</text>
<text class="n" x="122.800" y="584.700">3</text>
<text class="n" x="48.500" y="623.300">2</text>
<text class="n" x="337.500" y="696.400">4</text>
<text class="n" x="450" y="641.600">17</text>
<text class="n" x="806.300" y="623.600">16</text>
<text class="n" x="891" y="641.100">18</text>
</g>
<g id="banner">
<rect x="25" y="705" width="950" height="69.6" fill="#126808"/>
<text class="b" x="219.5" y="736.6">Part or sub-assembly is #5 in diagram</text>
<text class="b" x="172.5" y="767.4">Diagram may not be specific to your vehicle</text>
</g>
</svg>
</body>
</html>
